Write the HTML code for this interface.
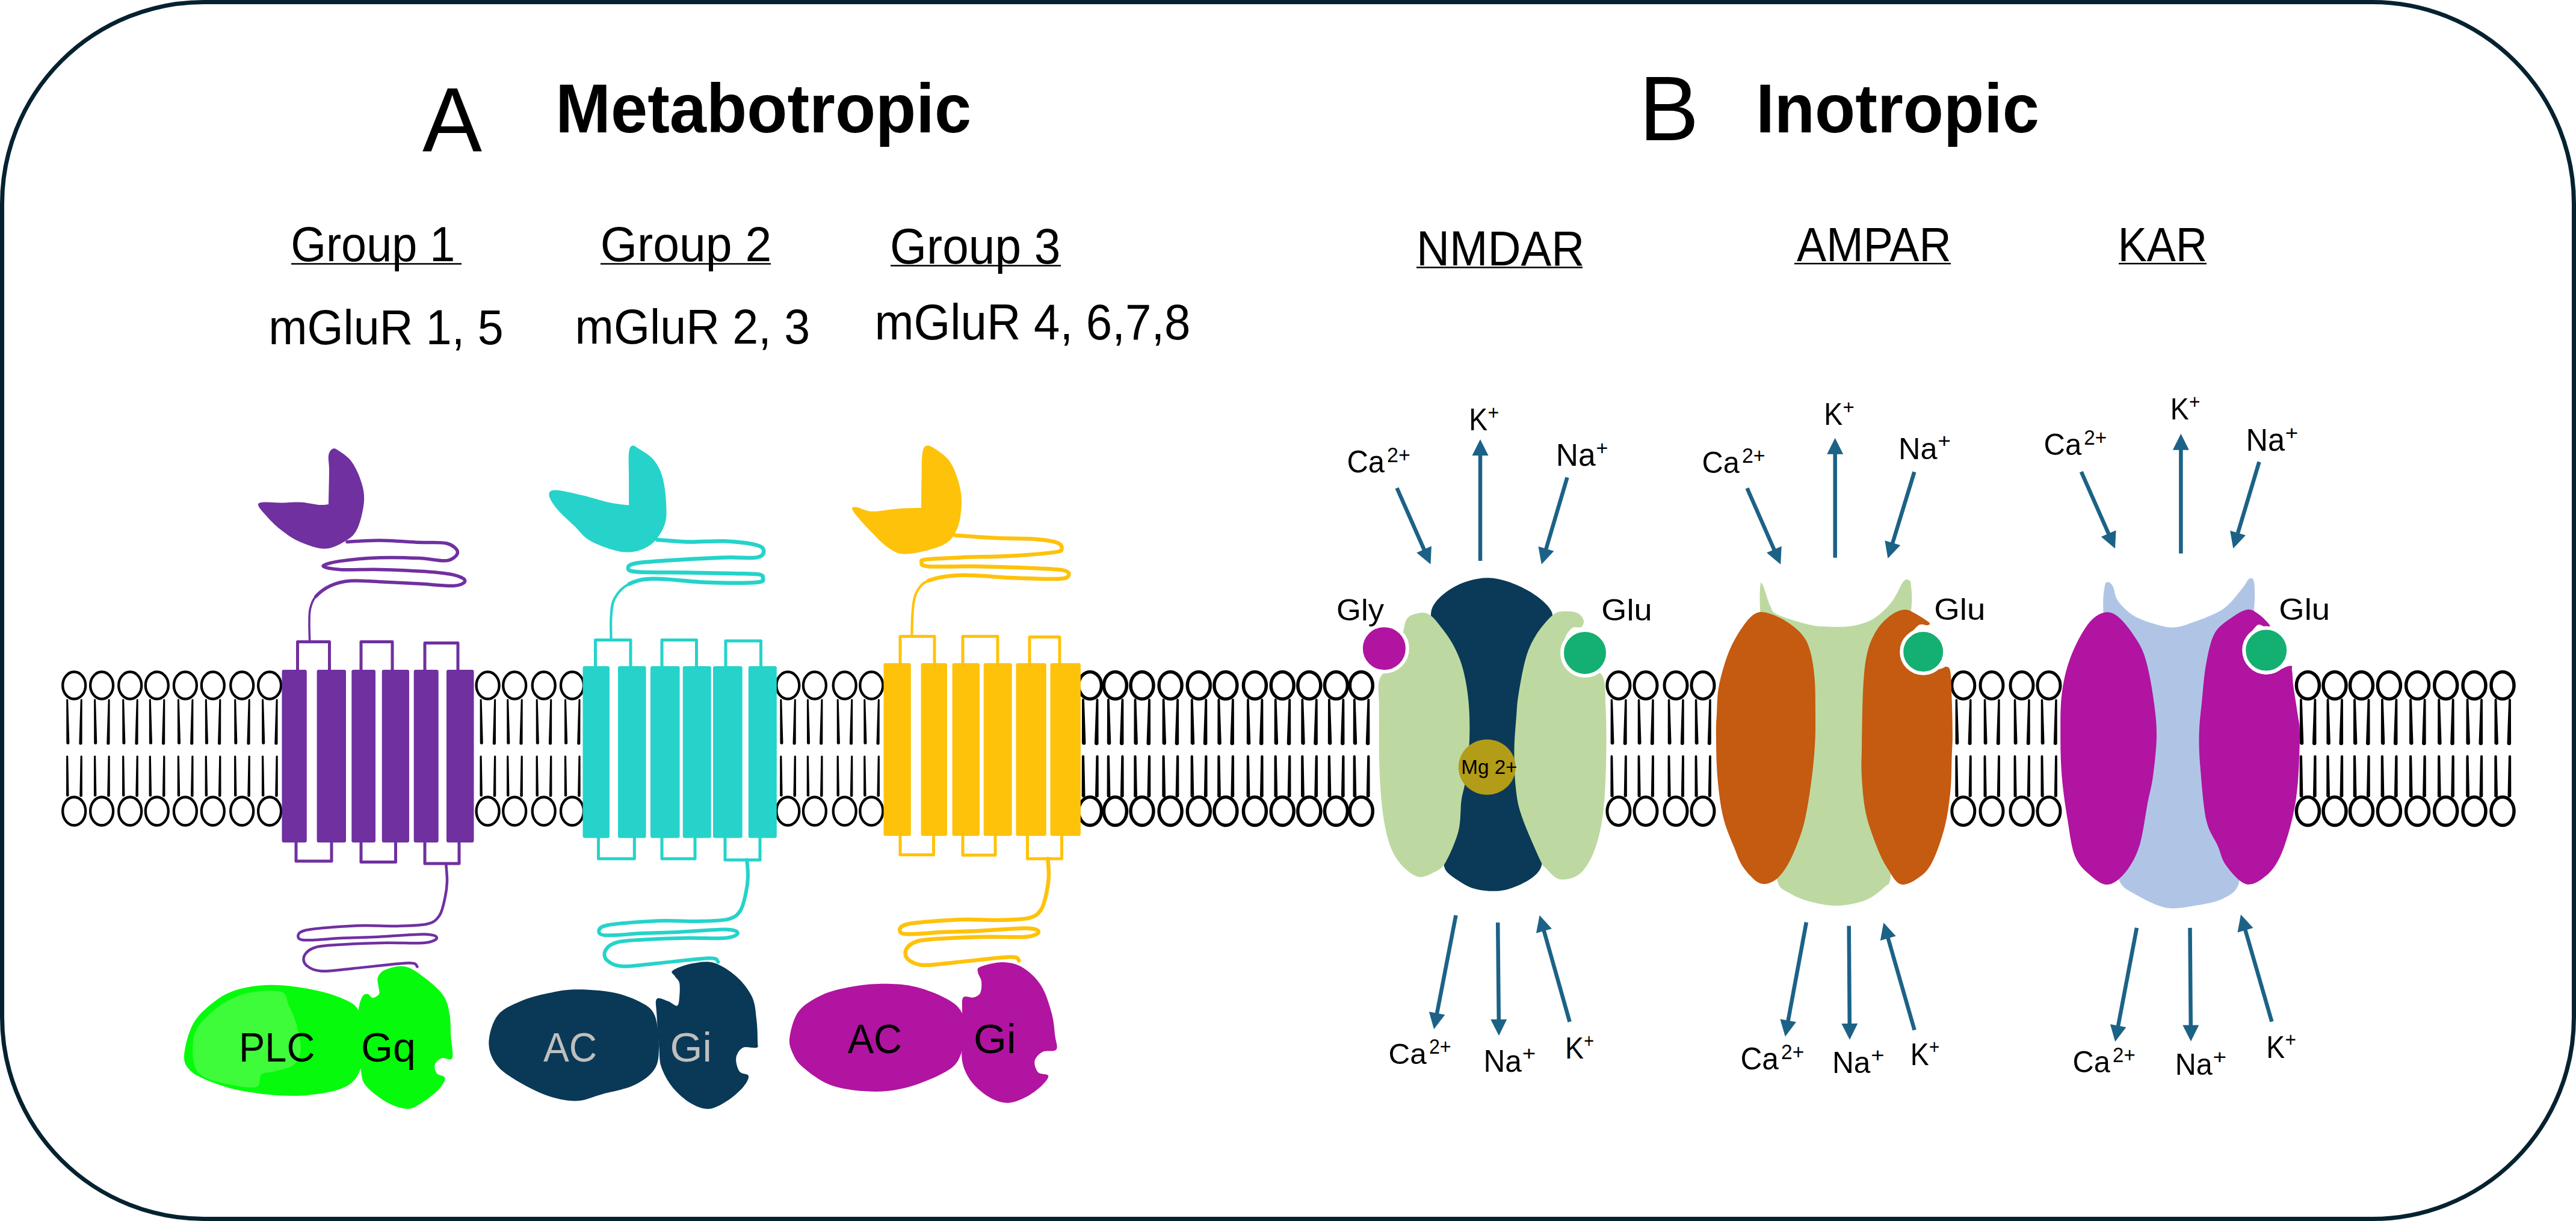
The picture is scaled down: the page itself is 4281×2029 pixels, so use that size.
<!DOCTYPE html>
<html><head><meta charset="utf-8"><title>Glutamate receptors</title>
<style>html,body{margin:0;padding:0;background:#fff;}svg{display:block;}text{font-family:"Liberation Sans",sans-serif;white-space:pre;}</style>
</head><body>
<svg width="4281" height="2029" viewBox="0 0 4281 2029">
<rect x="3.5" y="3.5" width="4274" height="2022" rx="335" ry="335" fill="#fff" stroke="#062230" stroke-width="7"/>
<rect x="484" y="437.2" width="283" height="2.5" fill="#000"/>
<rect x="998" y="437.2" width="283" height="2.5" fill="#000"/>
<rect x="1480" y="440.2" width="283" height="2.5" fill="#000"/>
<rect x="2354" y="443.2" width="276" height="2.5" fill="#000"/>
<rect x="2982" y="436.8" width="260" height="2.5" fill="#000"/>
<rect x="3521" y="436.8" width="146" height="2.5" fill="#000"/>
<ellipse cx="123.2" cy="1139" rx="19" ry="22.5" fill="#fff" stroke="#000" stroke-width="4.3"/>
<ellipse cx="123.2" cy="1348" rx="19" ry="23.5" fill="#fff" stroke="#000" stroke-width="4.3"/>
<ellipse cx="169.1" cy="1139" rx="19" ry="22.5" fill="#fff" stroke="#000" stroke-width="4.3"/>
<ellipse cx="169.1" cy="1348" rx="19" ry="23.5" fill="#fff" stroke="#000" stroke-width="4.3"/>
<ellipse cx="216.2" cy="1139" rx="19" ry="22.5" fill="#fff" stroke="#000" stroke-width="4.3"/>
<ellipse cx="216.2" cy="1348" rx="19" ry="23.5" fill="#fff" stroke="#000" stroke-width="4.3"/>
<ellipse cx="260.8" cy="1139" rx="19" ry="22.5" fill="#fff" stroke="#000" stroke-width="4.3"/>
<ellipse cx="260.8" cy="1348" rx="19" ry="23.5" fill="#fff" stroke="#000" stroke-width="4.3"/>
<ellipse cx="307.9" cy="1139" rx="19" ry="22.5" fill="#fff" stroke="#000" stroke-width="4.3"/>
<ellipse cx="307.9" cy="1348" rx="19" ry="23.5" fill="#fff" stroke="#000" stroke-width="4.3"/>
<ellipse cx="353.8" cy="1139" rx="19" ry="22.5" fill="#fff" stroke="#000" stroke-width="4.3"/>
<ellipse cx="353.8" cy="1348" rx="19" ry="23.5" fill="#fff" stroke="#000" stroke-width="4.3"/>
<ellipse cx="402.2" cy="1139" rx="19" ry="22.5" fill="#fff" stroke="#000" stroke-width="4.3"/>
<ellipse cx="402.2" cy="1348" rx="19" ry="23.5" fill="#fff" stroke="#000" stroke-width="4.3"/>
<ellipse cx="448.1" cy="1139" rx="19" ry="22.5" fill="#fff" stroke="#000" stroke-width="4.3"/>
<ellipse cx="448.1" cy="1348" rx="19" ry="23.5" fill="#fff" stroke="#000" stroke-width="4.3"/>
<path d="M110.2,1163 L110.3,1235 A2.6,2.6 0 0 0 115.4,1235 L113.2,1163 A1.5,1.5 0 0 0 110.2,1163Z M110.1,1257 L110,1322 A2.3,2.3 0 0 0 114.5,1322 L113.3,1257 A1.6,1.6 0 0 0 110.1,1257Z M133.7,1163 L131.4,1235 A2.6,2.6 0 0 0 136.6,1235 L136.7,1163 A1.5,1.5 0 0 0 133.7,1163Z M133.6,1257 L132.3,1322 A2.3,2.3 0 0 0 136.9,1322 L136.8,1257 A1.6,1.6 0 0 0 133.6,1257Z M156.1,1163 L156.2,1235 A2.6,2.6 0 0 0 161.3,1235 L159.1,1163 A1.5,1.5 0 0 0 156.1,1163Z M156,1257 L155.9,1322 A2.3,2.3 0 0 0 160.4,1322 L159.2,1257 A1.6,1.6 0 0 0 156,1257Z M179.6,1163 L177.3,1235 A2.6,2.6 0 0 0 182.5,1235 L182.6,1163 A1.5,1.5 0 0 0 179.6,1163Z M179.5,1257 L178.2,1322 A2.3,2.3 0 0 0 182.8,1322 L182.7,1257 A1.6,1.6 0 0 0 179.5,1257Z M203.2,1163 L203.3,1235 A2.6,2.6 0 0 0 208.4,1235 L206.2,1163 A1.5,1.5 0 0 0 203.2,1163Z M203.1,1257 L203,1322 A2.3,2.3 0 0 0 207.5,1322 L206.3,1257 A1.6,1.6 0 0 0 203.1,1257Z M226.7,1163 L224.4,1235 A2.6,2.6 0 0 0 229.6,1235 L229.7,1163 A1.5,1.5 0 0 0 226.7,1163Z M226.6,1257 L225.3,1322 A2.3,2.3 0 0 0 229.9,1322 L229.8,1257 A1.6,1.6 0 0 0 226.6,1257Z M247.8,1163 L247.9,1235 A2.6,2.6 0 0 0 253,1235 L250.8,1163 A1.5,1.5 0 0 0 247.8,1163Z M247.7,1257 L247.6,1322 A2.3,2.3 0 0 0 252.1,1322 L250.9,1257 A1.6,1.6 0 0 0 247.7,1257Z M271.3,1163 L269,1235 A2.6,2.6 0 0 0 274.2,1235 L274.3,1163 A1.5,1.5 0 0 0 271.3,1163Z M271.2,1257 L269.9,1322 A2.3,2.3 0 0 0 274.5,1322 L274.4,1257 A1.6,1.6 0 0 0 271.2,1257Z M294.9,1163 L295,1235 A2.6,2.6 0 0 0 300.1,1235 L297.9,1163 A1.5,1.5 0 0 0 294.9,1163Z M294.8,1257 L294.7,1322 A2.3,2.3 0 0 0 299.2,1322 L298,1257 A1.6,1.6 0 0 0 294.8,1257Z M318.4,1163 L316.1,1235 A2.6,2.6 0 0 0 321.3,1235 L321.4,1163 A1.5,1.5 0 0 0 318.4,1163Z M318.3,1257 L317,1322 A2.3,2.3 0 0 0 321.6,1322 L321.5,1257 A1.6,1.6 0 0 0 318.3,1257Z M340.8,1163 L340.9,1235 A2.6,2.6 0 0 0 346,1235 L343.8,1163 A1.5,1.5 0 0 0 340.8,1163Z M340.7,1257 L340.6,1322 A2.3,2.3 0 0 0 345.1,1322 L343.9,1257 A1.6,1.6 0 0 0 340.7,1257Z M364.3,1163 L362,1235 A2.6,2.6 0 0 0 367.2,1235 L367.3,1163 A1.5,1.5 0 0 0 364.3,1163Z M364.2,1257 L362.9,1322 A2.3,2.3 0 0 0 367.5,1322 L367.4,1257 A1.6,1.6 0 0 0 364.2,1257Z M389.2,1163 L389.3,1235 A2.6,2.6 0 0 0 394.4,1235 L392.2,1163 A1.5,1.5 0 0 0 389.2,1163Z M389.1,1257 L389,1322 A2.3,2.3 0 0 0 393.5,1322 L392.3,1257 A1.6,1.6 0 0 0 389.1,1257Z M412.7,1163 L410.4,1235 A2.6,2.6 0 0 0 415.6,1235 L415.7,1163 A1.5,1.5 0 0 0 412.7,1163Z M412.6,1257 L411.3,1322 A2.3,2.3 0 0 0 415.9,1322 L415.8,1257 A1.6,1.6 0 0 0 412.6,1257Z M435.1,1163 L435.2,1235 A2.6,2.6 0 0 0 440.3,1235 L438.1,1163 A1.5,1.5 0 0 0 435.1,1163Z M435,1257 L434.9,1322 A2.3,2.3 0 0 0 439.4,1322 L438.2,1257 A1.6,1.6 0 0 0 435,1257Z M458.6,1163 L456.3,1235 A2.6,2.6 0 0 0 461.5,1235 L461.6,1163 A1.5,1.5 0 0 0 458.6,1163Z M458.5,1257 L457.2,1322 A2.3,2.3 0 0 0 461.8,1322 L461.7,1257 A1.6,1.6 0 0 0 458.5,1257Z" fill="#000"/>
<ellipse cx="810.6" cy="1139" rx="19" ry="22.5" fill="#fff" stroke="#000" stroke-width="4.3"/>
<ellipse cx="810.6" cy="1348" rx="19" ry="23.5" fill="#fff" stroke="#000" stroke-width="4.3"/>
<ellipse cx="855.2" cy="1139" rx="19" ry="22.5" fill="#fff" stroke="#000" stroke-width="4.3"/>
<ellipse cx="855.2" cy="1348" rx="19" ry="23.5" fill="#fff" stroke="#000" stroke-width="4.3"/>
<ellipse cx="903.7" cy="1139" rx="19" ry="22.5" fill="#fff" stroke="#000" stroke-width="4.3"/>
<ellipse cx="903.7" cy="1348" rx="19" ry="23.5" fill="#fff" stroke="#000" stroke-width="4.3"/>
<ellipse cx="951" cy="1139" rx="19" ry="22.5" fill="#fff" stroke="#000" stroke-width="4.3"/>
<ellipse cx="951" cy="1348" rx="19" ry="23.5" fill="#fff" stroke="#000" stroke-width="4.3"/>
<path d="M797.6,1163 L797.7,1235 A2.6,2.6 0 0 0 802.8,1235 L800.6,1163 A1.5,1.5 0 0 0 797.6,1163Z M797.5,1257 L797.4,1322 A2.3,2.3 0 0 0 801.9,1322 L800.7,1257 A1.6,1.6 0 0 0 797.5,1257Z M821.1,1163 L818.8,1235 A2.6,2.6 0 0 0 824,1235 L824.1,1163 A1.5,1.5 0 0 0 821.1,1163Z M821,1257 L819.7,1322 A2.3,2.3 0 0 0 824.3,1322 L824.2,1257 A1.6,1.6 0 0 0 821,1257Z M842.2,1163 L842.3,1235 A2.6,2.6 0 0 0 847.4,1235 L845.2,1163 A1.5,1.5 0 0 0 842.2,1163Z M842.1,1257 L842,1322 A2.3,2.3 0 0 0 846.5,1322 L845.3,1257 A1.6,1.6 0 0 0 842.1,1257Z M865.7,1163 L863.4,1235 A2.6,2.6 0 0 0 868.6,1235 L868.7,1163 A1.5,1.5 0 0 0 865.7,1163Z M865.6,1257 L864.3,1322 A2.3,2.3 0 0 0 868.9,1322 L868.8,1257 A1.6,1.6 0 0 0 865.6,1257Z M890.7,1163 L890.8,1235 A2.6,2.6 0 0 0 895.9,1235 L893.7,1163 A1.5,1.5 0 0 0 890.7,1163Z M890.6,1257 L890.5,1322 A2.3,2.3 0 0 0 895,1322 L893.8,1257 A1.6,1.6 0 0 0 890.6,1257Z M914.2,1163 L911.9,1235 A2.6,2.6 0 0 0 917.1,1235 L917.2,1163 A1.5,1.5 0 0 0 914.2,1163Z M914.1,1257 L912.8,1322 A2.3,2.3 0 0 0 917.4,1322 L917.3,1257 A1.6,1.6 0 0 0 914.1,1257Z M938,1163 L938.1,1235 A2.6,2.6 0 0 0 943.2,1235 L941,1163 A1.5,1.5 0 0 0 938,1163Z M937.9,1257 L937.8,1322 A2.3,2.3 0 0 0 942.3,1322 L941.1,1257 A1.6,1.6 0 0 0 937.9,1257Z M961.5,1163 L959.2,1235 A2.6,2.6 0 0 0 964.4,1235 L964.5,1163 A1.5,1.5 0 0 0 961.5,1163Z M961.4,1257 L960.1,1322 A2.3,2.3 0 0 0 964.7,1322 L964.6,1257 A1.6,1.6 0 0 0 961.4,1257Z" fill="#000"/>
<ellipse cx="1309.3" cy="1139" rx="19" ry="22.5" fill="#fff" stroke="#000" stroke-width="4.3"/>
<ellipse cx="1309.3" cy="1348" rx="19" ry="23.5" fill="#fff" stroke="#000" stroke-width="4.3"/>
<ellipse cx="1353.9" cy="1139" rx="19" ry="22.5" fill="#fff" stroke="#000" stroke-width="4.3"/>
<ellipse cx="1353.9" cy="1348" rx="19" ry="23.5" fill="#fff" stroke="#000" stroke-width="4.3"/>
<ellipse cx="1403.7" cy="1139" rx="19" ry="22.5" fill="#fff" stroke="#000" stroke-width="4.3"/>
<ellipse cx="1403.7" cy="1348" rx="19" ry="23.5" fill="#fff" stroke="#000" stroke-width="4.3"/>
<ellipse cx="1448.3" cy="1139" rx="19" ry="22.5" fill="#fff" stroke="#000" stroke-width="4.3"/>
<ellipse cx="1448.3" cy="1348" rx="19" ry="23.5" fill="#fff" stroke="#000" stroke-width="4.3"/>
<path d="M1296.3,1163 L1296.4,1235 A2.6,2.6 0 0 0 1301.5,1235 L1299.3,1163 A1.5,1.5 0 0 0 1296.3,1163Z M1296.2,1257 L1296.1,1322 A2.3,2.3 0 0 0 1300.6,1322 L1299.4,1257 A1.6,1.6 0 0 0 1296.2,1257Z M1319.8,1163 L1317.5,1235 A2.6,2.6 0 0 0 1322.7,1235 L1322.8,1163 A1.5,1.5 0 0 0 1319.8,1163Z M1319.7,1257 L1318.4,1322 A2.3,2.3 0 0 0 1323,1322 L1322.9,1257 A1.6,1.6 0 0 0 1319.7,1257Z M1340.9,1163 L1341,1235 A2.6,2.6 0 0 0 1346.1,1235 L1343.9,1163 A1.5,1.5 0 0 0 1340.9,1163Z M1340.8,1257 L1340.7,1322 A2.3,2.3 0 0 0 1345.2,1322 L1344,1257 A1.6,1.6 0 0 0 1340.8,1257Z M1364.4,1163 L1362.1,1235 A2.6,2.6 0 0 0 1367.3,1235 L1367.4,1163 A1.5,1.5 0 0 0 1364.4,1163Z M1364.3,1257 L1363,1322 A2.3,2.3 0 0 0 1367.6,1322 L1367.5,1257 A1.6,1.6 0 0 0 1364.3,1257Z M1390.7,1163 L1390.8,1235 A2.6,2.6 0 0 0 1395.9,1235 L1393.7,1163 A1.5,1.5 0 0 0 1390.7,1163Z M1390.6,1257 L1390.5,1322 A2.3,2.3 0 0 0 1395,1322 L1393.8,1257 A1.6,1.6 0 0 0 1390.6,1257Z M1414.2,1163 L1411.9,1235 A2.6,2.6 0 0 0 1417.1,1235 L1417.2,1163 A1.5,1.5 0 0 0 1414.2,1163Z M1414.1,1257 L1412.8,1322 A2.3,2.3 0 0 0 1417.4,1322 L1417.3,1257 A1.6,1.6 0 0 0 1414.1,1257Z M1435.3,1163 L1435.4,1235 A2.6,2.6 0 0 0 1440.5,1235 L1438.3,1163 A1.5,1.5 0 0 0 1435.3,1163Z M1435.2,1257 L1435.1,1322 A2.3,2.3 0 0 0 1439.6,1322 L1438.4,1257 A1.6,1.6 0 0 0 1435.2,1257Z M1458.8,1163 L1456.5,1235 A2.6,2.6 0 0 0 1461.7,1235 L1461.8,1163 A1.5,1.5 0 0 0 1458.8,1163Z M1458.7,1257 L1457.4,1322 A2.3,2.3 0 0 0 1462,1322 L1461.9,1257 A1.6,1.6 0 0 0 1458.7,1257Z" fill="#000"/>
<ellipse cx="1811.5" cy="1139" rx="19" ry="22.5" fill="#fff" stroke="#000" stroke-width="5.5"/>
<ellipse cx="1811.5" cy="1348" rx="19" ry="23.5" fill="#fff" stroke="#000" stroke-width="5.5"/>
<ellipse cx="1853.4" cy="1139" rx="19" ry="22.5" fill="#fff" stroke="#000" stroke-width="5.5"/>
<ellipse cx="1853.4" cy="1348" rx="19" ry="23.5" fill="#fff" stroke="#000" stroke-width="5.5"/>
<ellipse cx="1898" cy="1139" rx="19" ry="22.5" fill="#fff" stroke="#000" stroke-width="5.5"/>
<ellipse cx="1898" cy="1348" rx="19" ry="23.5" fill="#fff" stroke="#000" stroke-width="5.5"/>
<ellipse cx="1945.1" cy="1139" rx="19" ry="22.5" fill="#fff" stroke="#000" stroke-width="5.5"/>
<ellipse cx="1945.1" cy="1348" rx="19" ry="23.5" fill="#fff" stroke="#000" stroke-width="5.5"/>
<ellipse cx="1992.3" cy="1139" rx="19" ry="22.5" fill="#fff" stroke="#000" stroke-width="5.5"/>
<ellipse cx="1992.3" cy="1348" rx="19" ry="23.5" fill="#fff" stroke="#000" stroke-width="5.5"/>
<ellipse cx="2036.9" cy="1139" rx="19" ry="22.5" fill="#fff" stroke="#000" stroke-width="5.5"/>
<ellipse cx="2036.9" cy="1348" rx="19" ry="23.5" fill="#fff" stroke="#000" stroke-width="5.5"/>
<ellipse cx="2085.4" cy="1139" rx="19" ry="22.5" fill="#fff" stroke="#000" stroke-width="5.5"/>
<ellipse cx="2085.4" cy="1348" rx="19" ry="23.5" fill="#fff" stroke="#000" stroke-width="5.5"/>
<ellipse cx="2131.2" cy="1139" rx="19" ry="22.5" fill="#fff" stroke="#000" stroke-width="5.5"/>
<ellipse cx="2131.2" cy="1348" rx="19" ry="23.5" fill="#fff" stroke="#000" stroke-width="5.5"/>
<ellipse cx="2175.8" cy="1139" rx="19" ry="22.5" fill="#fff" stroke="#000" stroke-width="5.5"/>
<ellipse cx="2175.8" cy="1348" rx="19" ry="23.5" fill="#fff" stroke="#000" stroke-width="5.5"/>
<ellipse cx="2220.4" cy="1139" rx="19" ry="22.5" fill="#fff" stroke="#000" stroke-width="5.5"/>
<ellipse cx="2220.4" cy="1348" rx="19" ry="23.5" fill="#fff" stroke="#000" stroke-width="5.5"/>
<ellipse cx="2262.3" cy="1139" rx="19" ry="22.5" fill="#fff" stroke="#000" stroke-width="5.5"/>
<ellipse cx="2262.3" cy="1348" rx="19" ry="23.5" fill="#fff" stroke="#000" stroke-width="5.5"/>
<path d="M1798.1,1163 L1797.9,1235.1 A3.3,3.3 0 0 0 1804.4,1234.9 L1801.9,1163 A1.9,1.9 0 0 0 1798.1,1163Z M1797.9,1257 L1797.7,1322 A2.9,2.9 0 0 0 1803.5,1322 L1802.1,1257 A2.1,2.1 0 0 0 1797.9,1257Z M1821.6,1163 L1819,1234.9 A3.3,3.3 0 0 0 1825.6,1235.1 L1825.4,1163 A1.9,1.9 0 0 0 1821.6,1163Z M1821.4,1257 L1820,1322 A2.9,2.9 0 0 0 1825.8,1322 L1825.6,1257 A2.1,2.1 0 0 0 1821.4,1257Z M1840,1163 L1839.8,1235.1 A3.3,3.3 0 0 0 1846.3,1234.9 L1843.8,1163 A1.9,1.9 0 0 0 1840,1163Z M1839.8,1257 L1839.6,1322 A2.9,2.9 0 0 0 1845.4,1322 L1844,1257 A2.1,2.1 0 0 0 1839.8,1257Z M1863.5,1163 L1860.9,1234.9 A3.3,3.3 0 0 0 1867.5,1235.1 L1867.3,1163 A1.9,1.9 0 0 0 1863.5,1163Z M1863.3,1257 L1861.9,1322 A2.9,2.9 0 0 0 1867.7,1322 L1867.5,1257 A2.1,2.1 0 0 0 1863.3,1257Z M1884.6,1163 L1884.4,1235.1 A3.3,3.3 0 0 0 1890.9,1234.9 L1888.4,1163 A1.9,1.9 0 0 0 1884.6,1163Z M1884.4,1257 L1884.2,1322 A2.9,2.9 0 0 0 1890,1322 L1888.6,1257 A2.1,2.1 0 0 0 1884.4,1257Z M1908.1,1163 L1905.5,1234.9 A3.3,3.3 0 0 0 1912.1,1235.1 L1911.9,1163 A1.9,1.9 0 0 0 1908.1,1163Z M1907.9,1257 L1906.5,1322 A2.9,2.9 0 0 0 1912.3,1322 L1912.1,1257 A2.1,2.1 0 0 0 1907.9,1257Z M1931.7,1163 L1931.5,1235.1 A3.3,3.3 0 0 0 1938,1234.9 L1935.5,1163 A1.9,1.9 0 0 0 1931.7,1163Z M1931.5,1257 L1931.3,1322 A2.9,2.9 0 0 0 1937.1,1322 L1935.7,1257 A2.1,2.1 0 0 0 1931.5,1257Z M1955.2,1163 L1952.6,1234.9 A3.3,3.3 0 0 0 1959.2,1235.1 L1959,1163 A1.9,1.9 0 0 0 1955.2,1163Z M1955,1257 L1953.6,1322 A2.9,2.9 0 0 0 1959.4,1322 L1959.2,1257 A2.1,2.1 0 0 0 1955,1257Z M1978.9,1163 L1978.7,1235.1 A3.3,3.3 0 0 0 1985.2,1234.9 L1982.7,1163 A1.9,1.9 0 0 0 1978.9,1163Z M1978.7,1257 L1978.5,1322 A2.9,2.9 0 0 0 1984.3,1322 L1982.9,1257 A2.1,2.1 0 0 0 1978.7,1257Z M2002.4,1163 L1999.8,1234.9 A3.3,3.3 0 0 0 2006.4,1235.1 L2006.2,1163 A1.9,1.9 0 0 0 2002.4,1163Z M2002.2,1257 L2000.8,1322 A2.9,2.9 0 0 0 2006.6,1322 L2006.4,1257 A2.1,2.1 0 0 0 2002.2,1257Z M2023.5,1163 L2023.3,1235.1 A3.3,3.3 0 0 0 2029.8,1234.9 L2027.3,1163 A1.9,1.9 0 0 0 2023.5,1163Z M2023.3,1257 L2023.1,1322 A2.9,2.9 0 0 0 2028.9,1322 L2027.5,1257 A2.1,2.1 0 0 0 2023.3,1257Z M2047,1163 L2044.4,1234.9 A3.3,3.3 0 0 0 2051,1235.1 L2050.8,1163 A1.9,1.9 0 0 0 2047,1163Z M2046.8,1257 L2045.4,1322 A2.9,2.9 0 0 0 2051.2,1322 L2051,1257 A2.1,2.1 0 0 0 2046.8,1257Z M2072,1163 L2071.8,1235.1 A3.3,3.3 0 0 0 2078.3,1234.9 L2075.8,1163 A1.9,1.9 0 0 0 2072,1163Z M2071.8,1257 L2071.6,1322 A2.9,2.9 0 0 0 2077.4,1322 L2076,1257 A2.1,2.1 0 0 0 2071.8,1257Z M2095.5,1163 L2092.9,1234.9 A3.3,3.3 0 0 0 2099.5,1235.1 L2099.3,1163 A1.9,1.9 0 0 0 2095.5,1163Z M2095.3,1257 L2093.9,1322 A2.9,2.9 0 0 0 2099.7,1322 L2099.5,1257 A2.1,2.1 0 0 0 2095.3,1257Z M2117.8,1163 L2117.6,1235.1 A3.3,3.3 0 0 0 2124.1,1234.9 L2121.6,1163 A1.9,1.9 0 0 0 2117.8,1163Z M2117.6,1257 L2117.4,1322 A2.9,2.9 0 0 0 2123.2,1322 L2121.8,1257 A2.1,2.1 0 0 0 2117.6,1257Z M2141.3,1163 L2138.7,1234.9 A3.3,3.3 0 0 0 2145.3,1235.1 L2145.1,1163 A1.9,1.9 0 0 0 2141.3,1163Z M2141.1,1257 L2139.7,1322 A2.9,2.9 0 0 0 2145.5,1322 L2145.3,1257 A2.1,2.1 0 0 0 2141.1,1257Z M2162.4,1163 L2162.2,1235.1 A3.3,3.3 0 0 0 2168.7,1234.9 L2166.2,1163 A1.9,1.9 0 0 0 2162.4,1163Z M2162.2,1257 L2162,1322 A2.9,2.9 0 0 0 2167.8,1322 L2166.4,1257 A2.1,2.1 0 0 0 2162.2,1257Z M2185.9,1163 L2183.3,1234.9 A3.3,3.3 0 0 0 2189.9,1235.1 L2189.7,1163 A1.9,1.9 0 0 0 2185.9,1163Z M2185.7,1257 L2184.3,1322 A2.9,2.9 0 0 0 2190.1,1322 L2189.9,1257 A2.1,2.1 0 0 0 2185.7,1257Z M2207,1163 L2206.8,1235.1 A3.3,3.3 0 0 0 2213.3,1234.9 L2210.8,1163 A1.9,1.9 0 0 0 2207,1163Z M2206.8,1257 L2206.6,1322 A2.9,2.9 0 0 0 2212.4,1322 L2211,1257 A2.1,2.1 0 0 0 2206.8,1257Z M2230.5,1163 L2227.9,1234.9 A3.3,3.3 0 0 0 2234.5,1235.1 L2234.3,1163 A1.9,1.9 0 0 0 2230.5,1163Z M2230.3,1257 L2228.9,1322 A2.9,2.9 0 0 0 2234.7,1322 L2234.5,1257 A2.1,2.1 0 0 0 2230.3,1257Z M2248.9,1163 L2248.7,1235.1 A3.3,3.3 0 0 0 2255.2,1234.9 L2252.7,1163 A1.9,1.9 0 0 0 2248.9,1163Z M2248.7,1257 L2248.5,1322 A2.9,2.9 0 0 0 2254.3,1322 L2252.9,1257 A2.1,2.1 0 0 0 2248.7,1257Z M2272.4,1163 L2269.8,1234.9 A3.3,3.3 0 0 0 2276.4,1235.1 L2276.2,1163 A1.9,1.9 0 0 0 2272.4,1163Z M2272.2,1257 L2270.8,1322 A2.9,2.9 0 0 0 2276.6,1322 L2276.4,1257 A2.1,2.1 0 0 0 2272.2,1257Z" fill="#000"/>
<ellipse cx="2689.9" cy="1139" rx="19" ry="22.5" fill="#fff" stroke="#000" stroke-width="5"/>
<ellipse cx="2689.9" cy="1348" rx="19" ry="23.5" fill="#fff" stroke="#000" stroke-width="5"/>
<ellipse cx="2735" cy="1139" rx="19" ry="22.5" fill="#fff" stroke="#000" stroke-width="5"/>
<ellipse cx="2735" cy="1348" rx="19" ry="23.5" fill="#fff" stroke="#000" stroke-width="5"/>
<ellipse cx="2785" cy="1139" rx="19" ry="22.5" fill="#fff" stroke="#000" stroke-width="5"/>
<ellipse cx="2785" cy="1348" rx="19" ry="23.5" fill="#fff" stroke="#000" stroke-width="5"/>
<ellipse cx="2830" cy="1139" rx="19" ry="22.5" fill="#fff" stroke="#000" stroke-width="5"/>
<ellipse cx="2830" cy="1348" rx="19" ry="23.5" fill="#fff" stroke="#000" stroke-width="5"/>
<path d="M2676.7,1163 L2676.6,1235 A3,3 0 0 0 2682.5,1235 L2680.1,1163 A1.8,1.8 0 0 0 2676.7,1163Z M2676.5,1257 L2676.4,1322 A2.6,2.6 0 0 0 2681.6,1322 L2680.3,1257 A1.9,1.9 0 0 0 2676.5,1257Z M2700.2,1163 L2697.7,1235 A3,3 0 0 0 2703.7,1235 L2703.6,1163 A1.8,1.8 0 0 0 2700.2,1163Z M2700,1257 L2698.7,1322 A2.6,2.6 0 0 0 2703.9,1322 L2703.8,1257 A1.9,1.9 0 0 0 2700,1257Z M2721.8,1163 L2721.7,1235 A3,3 0 0 0 2727.6,1235 L2725.2,1163 A1.8,1.8 0 0 0 2721.8,1163Z M2721.6,1257 L2721.5,1322 A2.6,2.6 0 0 0 2726.7,1322 L2725.4,1257 A1.9,1.9 0 0 0 2721.6,1257Z M2745.3,1163 L2742.8,1235 A3,3 0 0 0 2748.8,1235 L2748.7,1163 A1.8,1.8 0 0 0 2745.3,1163Z M2745.1,1257 L2743.8,1322 A2.6,2.6 0 0 0 2749,1322 L2748.9,1257 A1.9,1.9 0 0 0 2745.1,1257Z M2771.8,1163 L2771.7,1235 A3,3 0 0 0 2777.6,1235 L2775.2,1163 A1.8,1.8 0 0 0 2771.8,1163Z M2771.6,1257 L2771.5,1322 A2.6,2.6 0 0 0 2776.7,1322 L2775.4,1257 A1.9,1.9 0 0 0 2771.6,1257Z M2795.3,1163 L2792.8,1235 A3,3 0 0 0 2798.8,1235 L2798.7,1163 A1.8,1.8 0 0 0 2795.3,1163Z M2795.1,1257 L2793.8,1322 A2.6,2.6 0 0 0 2799,1322 L2798.9,1257 A1.9,1.9 0 0 0 2795.1,1257Z M2816.8,1163 L2816.7,1235 A3,3 0 0 0 2822.6,1235 L2820.2,1163 A1.8,1.8 0 0 0 2816.8,1163Z M2816.6,1257 L2816.5,1322 A2.6,2.6 0 0 0 2821.7,1322 L2820.4,1257 A1.9,1.9 0 0 0 2816.6,1257Z M2840.3,1163 L2837.8,1235 A3,3 0 0 0 2843.8,1235 L2843.7,1163 A1.8,1.8 0 0 0 2840.3,1163Z M2840.1,1257 L2838.8,1322 A2.6,2.6 0 0 0 2844,1322 L2843.9,1257 A1.9,1.9 0 0 0 2840.1,1257Z" fill="#000"/>
<ellipse cx="3262.8" cy="1139" rx="19" ry="22.5" fill="#fff" stroke="#000" stroke-width="5"/>
<ellipse cx="3262.8" cy="1348" rx="19" ry="23.5" fill="#fff" stroke="#000" stroke-width="5"/>
<ellipse cx="3310" cy="1139" rx="19" ry="22.5" fill="#fff" stroke="#000" stroke-width="5"/>
<ellipse cx="3310" cy="1348" rx="19" ry="23.5" fill="#fff" stroke="#000" stroke-width="5"/>
<ellipse cx="3360" cy="1139" rx="19" ry="22.5" fill="#fff" stroke="#000" stroke-width="5"/>
<ellipse cx="3360" cy="1348" rx="19" ry="23.5" fill="#fff" stroke="#000" stroke-width="5"/>
<ellipse cx="3405" cy="1139" rx="19" ry="22.5" fill="#fff" stroke="#000" stroke-width="5"/>
<ellipse cx="3405" cy="1348" rx="19" ry="23.5" fill="#fff" stroke="#000" stroke-width="5"/>
<path d="M3249.6,1163 L3249.5,1235 A3,3 0 0 0 3255.4,1235 L3253,1163 A1.8,1.8 0 0 0 3249.6,1163Z M3249.4,1257 L3249.3,1322 A2.6,2.6 0 0 0 3254.5,1322 L3253.2,1257 A1.9,1.9 0 0 0 3249.4,1257Z M3273.1,1163 L3270.6,1235 A3,3 0 0 0 3276.6,1235 L3276.5,1163 A1.8,1.8 0 0 0 3273.1,1163Z M3272.9,1257 L3271.6,1322 A2.6,2.6 0 0 0 3276.8,1322 L3276.7,1257 A1.9,1.9 0 0 0 3272.9,1257Z M3296.8,1163 L3296.7,1235 A3,3 0 0 0 3302.6,1235 L3300.2,1163 A1.8,1.8 0 0 0 3296.8,1163Z M3296.6,1257 L3296.5,1322 A2.6,2.6 0 0 0 3301.7,1322 L3300.4,1257 A1.9,1.9 0 0 0 3296.6,1257Z M3320.3,1163 L3317.8,1235 A3,3 0 0 0 3323.8,1235 L3323.7,1163 A1.8,1.8 0 0 0 3320.3,1163Z M3320.1,1257 L3318.8,1322 A2.6,2.6 0 0 0 3324,1322 L3323.9,1257 A1.9,1.9 0 0 0 3320.1,1257Z M3346.8,1163 L3346.7,1235 A3,3 0 0 0 3352.6,1235 L3350.2,1163 A1.8,1.8 0 0 0 3346.8,1163Z M3346.6,1257 L3346.5,1322 A2.6,2.6 0 0 0 3351.7,1322 L3350.4,1257 A1.9,1.9 0 0 0 3346.6,1257Z M3370.3,1163 L3367.8,1235 A3,3 0 0 0 3373.8,1235 L3373.7,1163 A1.8,1.8 0 0 0 3370.3,1163Z M3370.1,1257 L3368.8,1322 A2.6,2.6 0 0 0 3374,1322 L3373.9,1257 A1.9,1.9 0 0 0 3370.1,1257Z M3391.8,1163 L3391.7,1235 A3,3 0 0 0 3397.6,1235 L3395.2,1163 A1.8,1.8 0 0 0 3391.8,1163Z M3391.6,1257 L3391.5,1322 A2.6,2.6 0 0 0 3396.7,1322 L3395.4,1257 A1.9,1.9 0 0 0 3391.6,1257Z M3415.3,1163 L3412.8,1235 A3,3 0 0 0 3418.8,1235 L3418.7,1163 A1.8,1.8 0 0 0 3415.3,1163Z M3415.1,1257 L3413.8,1322 A2.6,2.6 0 0 0 3419,1322 L3418.9,1257 A1.9,1.9 0 0 0 3415.1,1257Z" fill="#000"/>
<ellipse cx="3835.4" cy="1139" rx="19" ry="22.5" fill="#fff" stroke="#000" stroke-width="5.5"/>
<ellipse cx="3835.4" cy="1348" rx="19" ry="23.5" fill="#fff" stroke="#000" stroke-width="5.5"/>
<ellipse cx="3880" cy="1139" rx="19" ry="22.5" fill="#fff" stroke="#000" stroke-width="5.5"/>
<ellipse cx="3880" cy="1348" rx="19" ry="23.5" fill="#fff" stroke="#000" stroke-width="5.5"/>
<ellipse cx="3924.5" cy="1139" rx="19" ry="22.5" fill="#fff" stroke="#000" stroke-width="5.5"/>
<ellipse cx="3924.5" cy="1348" rx="19" ry="23.5" fill="#fff" stroke="#000" stroke-width="5.5"/>
<ellipse cx="3970.4" cy="1139" rx="19" ry="22.5" fill="#fff" stroke="#000" stroke-width="5.5"/>
<ellipse cx="3970.4" cy="1348" rx="19" ry="23.5" fill="#fff" stroke="#000" stroke-width="5.5"/>
<ellipse cx="4017.6" cy="1139" rx="19" ry="22.5" fill="#fff" stroke="#000" stroke-width="5.5"/>
<ellipse cx="4017.6" cy="1348" rx="19" ry="23.5" fill="#fff" stroke="#000" stroke-width="5.5"/>
<ellipse cx="4064.7" cy="1139" rx="19" ry="22.5" fill="#fff" stroke="#000" stroke-width="5.5"/>
<ellipse cx="4064.7" cy="1348" rx="19" ry="23.5" fill="#fff" stroke="#000" stroke-width="5.5"/>
<ellipse cx="4112" cy="1139" rx="19" ry="22.5" fill="#fff" stroke="#000" stroke-width="5.5"/>
<ellipse cx="4112" cy="1348" rx="19" ry="23.5" fill="#fff" stroke="#000" stroke-width="5.5"/>
<ellipse cx="4159" cy="1139" rx="19" ry="22.5" fill="#fff" stroke="#000" stroke-width="5.5"/>
<ellipse cx="4159" cy="1348" rx="19" ry="23.5" fill="#fff" stroke="#000" stroke-width="5.5"/>
<path d="M3822,1163 L3821.8,1235.1 A3.3,3.3 0 0 0 3828.3,1234.9 L3825.8,1163 A1.9,1.9 0 0 0 3822,1163Z M3821.8,1257 L3821.6,1322 A2.9,2.9 0 0 0 3827.4,1322 L3826,1257 A2.1,2.1 0 0 0 3821.8,1257Z M3845.5,1163 L3842.9,1234.9 A3.3,3.3 0 0 0 3849.5,1235.1 L3849.3,1163 A1.9,1.9 0 0 0 3845.5,1163Z M3845.3,1257 L3843.9,1322 A2.9,2.9 0 0 0 3849.7,1322 L3849.5,1257 A2.1,2.1 0 0 0 3845.3,1257Z M3866.6,1163 L3866.4,1235.1 A3.3,3.3 0 0 0 3872.9,1234.9 L3870.4,1163 A1.9,1.9 0 0 0 3866.6,1163Z M3866.4,1257 L3866.2,1322 A2.9,2.9 0 0 0 3872,1322 L3870.6,1257 A2.1,2.1 0 0 0 3866.4,1257Z M3890.1,1163 L3887.5,1234.9 A3.3,3.3 0 0 0 3894.1,1235.1 L3893.9,1163 A1.9,1.9 0 0 0 3890.1,1163Z M3889.9,1257 L3888.5,1322 A2.9,2.9 0 0 0 3894.3,1322 L3894.1,1257 A2.1,2.1 0 0 0 3889.9,1257Z M3911.1,1163 L3910.9,1235.1 A3.3,3.3 0 0 0 3917.4,1234.9 L3914.9,1163 A1.9,1.9 0 0 0 3911.1,1163Z M3910.9,1257 L3910.7,1322 A2.9,2.9 0 0 0 3916.5,1322 L3915.1,1257 A2.1,2.1 0 0 0 3910.9,1257Z M3934.6,1163 L3932,1234.9 A3.3,3.3 0 0 0 3938.6,1235.1 L3938.4,1163 A1.9,1.9 0 0 0 3934.6,1163Z M3934.4,1257 L3933,1322 A2.9,2.9 0 0 0 3938.8,1322 L3938.6,1257 A2.1,2.1 0 0 0 3934.4,1257Z M3957,1163 L3956.8,1235.1 A3.3,3.3 0 0 0 3963.3,1234.9 L3960.8,1163 A1.9,1.9 0 0 0 3957,1163Z M3956.8,1257 L3956.6,1322 A2.9,2.9 0 0 0 3962.4,1322 L3961,1257 A2.1,2.1 0 0 0 3956.8,1257Z M3980.5,1163 L3977.9,1234.9 A3.3,3.3 0 0 0 3984.5,1235.1 L3984.3,1163 A1.9,1.9 0 0 0 3980.5,1163Z M3980.3,1257 L3978.9,1322 A2.9,2.9 0 0 0 3984.7,1322 L3984.5,1257 A2.1,2.1 0 0 0 3980.3,1257Z M4004.2,1163 L4004,1235.1 A3.3,3.3 0 0 0 4010.5,1234.9 L4008,1163 A1.9,1.9 0 0 0 4004.2,1163Z M4004,1257 L4003.8,1322 A2.9,2.9 0 0 0 4009.6,1322 L4008.2,1257 A2.1,2.1 0 0 0 4004,1257Z M4027.7,1163 L4025.1,1234.9 A3.3,3.3 0 0 0 4031.7,1235.1 L4031.5,1163 A1.9,1.9 0 0 0 4027.7,1163Z M4027.5,1257 L4026.1,1322 A2.9,2.9 0 0 0 4031.9,1322 L4031.7,1257 A2.1,2.1 0 0 0 4027.5,1257Z M4051.3,1163 L4051.1,1235.1 A3.3,3.3 0 0 0 4057.6,1234.9 L4055.1,1163 A1.9,1.9 0 0 0 4051.3,1163Z M4051.1,1257 L4050.9,1322 A2.9,2.9 0 0 0 4056.7,1322 L4055.3,1257 A2.1,2.1 0 0 0 4051.1,1257Z M4074.8,1163 L4072.2,1234.9 A3.3,3.3 0 0 0 4078.8,1235.1 L4078.6,1163 A1.9,1.9 0 0 0 4074.8,1163Z M4074.6,1257 L4073.2,1322 A2.9,2.9 0 0 0 4079,1322 L4078.8,1257 A2.1,2.1 0 0 0 4074.6,1257Z M4098.6,1163 L4098.4,1235.1 A3.3,3.3 0 0 0 4104.9,1234.9 L4102.4,1163 A1.9,1.9 0 0 0 4098.6,1163Z M4098.4,1257 L4098.2,1322 A2.9,2.9 0 0 0 4104,1322 L4102.6,1257 A2.1,2.1 0 0 0 4098.4,1257Z M4122.1,1163 L4119.5,1234.9 A3.3,3.3 0 0 0 4126.1,1235.1 L4125.9,1163 A1.9,1.9 0 0 0 4122.1,1163Z M4121.9,1257 L4120.5,1322 A2.9,2.9 0 0 0 4126.3,1322 L4126.1,1257 A2.1,2.1 0 0 0 4121.9,1257Z M4145.6,1163 L4145.4,1235.1 A3.3,3.3 0 0 0 4151.9,1234.9 L4149.4,1163 A1.9,1.9 0 0 0 4145.6,1163Z M4145.4,1257 L4145.2,1322 A2.9,2.9 0 0 0 4151,1322 L4149.6,1257 A2.1,2.1 0 0 0 4145.4,1257Z M4169.1,1163 L4166.5,1234.9 A3.3,3.3 0 0 0 4173.1,1235.1 L4172.9,1163 A1.9,1.9 0 0 0 4169.1,1163Z M4168.9,1257 L4167.5,1322 A2.9,2.9 0 0 0 4173.3,1322 L4173.1,1257 A2.1,2.1 0 0 0 4168.9,1257Z" fill="#000"/>
<path d="M553.5,745.6 C550.5,746.7 547.2,750.6 546.1,756.2 C545,761.8 546.9,770 547,779 C547.1,788 546.7,800.2 546.5,810 C546.3,819.8 546,838 546,838 C546,838 538.8,839.5 531.4,839 C524,838.5 512.1,835.4 501.9,834.8 C491.7,834.2 482,835.2 470,835.5 C458,835.8 434,832.5 429.8,836.5 C425.6,840.5 438.1,851.8 444.6,859.4 C451.2,867 460.1,875.5 469.1,882.3 C478.1,889.1 486.6,895.5 498.6,900.4 C510.6,905.3 528.1,912.4 541.2,911.8 C554.3,911.2 568.5,902.5 577.2,897 C585.9,891.5 589.2,887.7 593.6,879 C598,870.3 601.7,855.1 603.5,844.7 C605.3,834.3 605.7,826.4 604.3,816.8 C602.9,807.2 599,796 595.3,787.3 C591.6,778.6 587.4,770.7 582.2,764.4 C577,758.1 568.9,752.8 564.1,749.7 C559.3,746.6 556.5,744.5 553.5,745.6Z" fill="#7030a0"/>
<path d="M577,900.5 C586,900.1 611.1,897.9 631,898 C650.9,898.1 678,900.5 696.6,901.3 C715.2,902.1 731.9,900.3 742.5,903 C753.1,905.7 760.5,912.9 760.5,917.7 C760.5,922.5 753.1,930 742.5,931.6 C731.9,933.2 715.2,928.3 696.6,927.5 C678,926.7 652.9,925.9 631,926.7 C609.1,927.5 581.2,930.1 565.5,932.4 C549.8,934.7 536.9,938.3 536.9,940.6 C536.9,942.9 549.8,945.4 565.5,946.4 C581.2,947.4 607.8,945.9 631,946.4 C654.2,946.9 684.3,948.1 704.8,949.6 C725.3,951.1 742.7,952.8 754,955.4 C765.3,958 772.8,962.2 772.8,965.2 C772.8,968.2 766.7,972.6 754,973.4 C741.3,974.2 717.1,971.2 696.6,970.1 C676.1,969 650.1,967.6 631,966.8 C611.9,966 595.7,964.1 582,965.2 C568.3,966.3 558.6,969 549,973.4 C539.4,977.8 530.2,985.1 524.6,991.4 C519,997.7 517.4,1003.6 515.6,1011 C513.8,1018.4 514.1,1026.5 514,1035.7 C513.9,1044.9 514.6,1061 514.7,1066" fill="none" stroke="#7030a0" stroke-width="3.6" stroke-linejoin="round" stroke-linecap="round"/>
<path d="M577,900.5 C586,900.1 611.1,897.9 631,898 C650.9,898.1 678,900.5 696.6,901.3 C715.2,902.1 731.9,900.3 742.5,903 C753.1,905.7 760.5,912.9 760.5,917.7 C760.5,922.5 753.1,930 742.5,931.6 C731.9,933.2 715.2,928.3 696.6,927.5 C678,926.7 652.9,925.9 631,926.7 C609.1,927.5 581.2,930.1 565.5,932.4 C549.8,934.7 536.9,938.3 536.9,940.6 C536.9,942.9 549.8,945.4 565.5,946.4 C581.2,947.4 607.8,945.9 631,946.4 C654.2,946.9 684.3,948.1 704.8,949.6 C725.3,951.1 742.7,952.8 754,955.4 C765.3,958 772.8,962.2 772.8,965.2 C772.8,968.2 766.7,972.6 754,973.4 C741.3,974.2 717.1,971.2 696.6,970.1 C676.1,969 650.1,967.6 631,966.8 C611.9,966 595.7,964.1 582,965.2 C568.3,966.3 558.6,969 549,973.4 C539.4,977.8 530.2,985.1 524.6,991.4 C519,997.7 517.4,1003.6 515.6,1011 C513.8,1018.4 514.1,1026.5 514,1035.7 C513.9,1044.9 514.6,1061 514.7,1066" pathLength="1000" stroke-dasharray="922.7 2000" fill="none" stroke="#7030a0" stroke-width="5.5" stroke-linejoin="round" stroke-linecap="round"/>
<rect x="468.5" y="1113" width="41.3" height="287" rx="3" fill="#7030a0"/>
<rect x="526.6" y="1113" width="48.4" height="287" rx="3" fill="#7030a0"/>
<rect x="584.3" y="1113" width="39.7" height="287" rx="3" fill="#7030a0"/>
<rect x="634.7" y="1113" width="45.3" height="287" rx="3" fill="#7030a0"/>
<rect x="687.7" y="1113" width="41" height="287" rx="3" fill="#7030a0"/>
<rect x="742" y="1113" width="45.5" height="287" rx="3" fill="#7030a0"/>
<path d="M494.5,1115 L494.5,1066.5 L547.5,1066.5 L547.5,1115" fill="none" stroke="#7030a0" stroke-width="5" stroke-linejoin="round"/>
<path d="M600,1115 L600,1066.5 L652,1066.5 L652,1115" fill="none" stroke="#7030a0" stroke-width="5" stroke-linejoin="round"/>
<path d="M706,1115 L706,1068.5 L761,1068.5 L761,1115" fill="none" stroke="#7030a0" stroke-width="5" stroke-linejoin="round"/>
<path d="M492,1398 L492,1431 L551,1431 L551,1398" fill="none" stroke="#7030a0" stroke-width="5" stroke-linejoin="round"/>
<path d="M600,1398 L600,1432.5 L657.5,1432.5 L657.5,1398" fill="none" stroke="#7030a0" stroke-width="5" stroke-linejoin="round"/>
<path d="M706,1398 L706,1435 L763,1435 L763,1398" fill="none" stroke="#7030a0" stroke-width="5" stroke-linejoin="round"/>
<g transform="translate(0,0)"><path d="M741.3,1437 C741.6,1441.7 743.3,1455.8 743,1465 C742.7,1474.2 741.6,1482.7 739.5,1492 C737.4,1501.3 735.3,1513.8 730.5,1521 C725.7,1528.2 722.3,1532.3 710.6,1535.3 C698.9,1538.3 677.6,1538.5 660.2,1538.9 C642.8,1539.4 624,1537.7 606,1538 C588,1538.3 568.5,1539.4 552,1540.7 C535.5,1542 516.5,1543.6 507,1546 C497.6,1548.4 495.3,1552.3 495.3,1555 C495.3,1557.7 494.6,1561.7 507,1562.3 C519.5,1562.9 550.5,1559.6 570,1558.7 C589.5,1557.8 601.5,1558 624,1557 C646.5,1556 688,1552.1 705,1552.4 C722,1552.7 726,1556.3 726,1558.7 C726,1561.1 719,1565.5 705,1566.8 C691,1568.1 664.5,1566.3 642,1566.8 C619.5,1567.2 589.5,1568.3 570,1569.5 C550.5,1570.7 535.7,1571 525,1574 C514.3,1577 508.7,1582.6 506,1587.6 C503.3,1592.6 504.1,1599.4 508.8,1603.8 C513.5,1608.2 520.8,1612.8 534,1613.7 C547.2,1614.6 564,1611.5 588,1609.2 C612,1607 660.6,1600.7 678.2,1600.2 C695.8,1599.8 691,1605.5 693.5,1606.5" fill="none" stroke="#7030a0" stroke-width="4.5" stroke-linejoin="round" stroke-linecap="round"/></g>
<path d="M306.4,1749.7 C307.8,1737.3 313.5,1714.5 321.3,1700.7 C329.1,1686.9 341.5,1675.9 353.2,1666.7 C364.9,1657.5 375.6,1650.4 391.6,1645.4 C407.6,1640.4 428.8,1637.2 449,1636.8 C469.2,1636.4 493.5,1639.7 513,1643.2 C532.5,1646.8 552.4,1652.1 566.2,1658.1 C580,1664.1 589.5,1667.4 596,1679.4 C602.5,1691.4 604.8,1713 605,1730 C605.2,1747 603.5,1768.5 597,1781.7 C590.5,1794.9 583.8,1802.8 566.2,1809.3 C548.7,1815.8 518.3,1820.3 491.7,1821 C465.1,1821.7 431.4,1818 406.5,1813.6 C381.6,1809.2 358.2,1800.8 342.6,1794.4 C327,1788 318.8,1782.8 312.8,1775.3 C306.8,1767.8 305,1762.1 306.4,1749.7Z" fill="#05fb0b"/>
<path d="M596,1679.4 C596.9,1667.1 599.9,1660.6 602.4,1656 C604.9,1651.4 608.2,1651.5 611,1651.8 C613.8,1652.1 616.2,1658.1 619.4,1658.1 C622.6,1658.1 628.4,1655 630,1651.8 C631.6,1648.6 629.3,1643.6 629,1639 C628.7,1634.4 626,1628.6 628,1624 C630,1619.4 633.2,1614.3 640.7,1611.3 C648.2,1608.3 662.1,1603.9 672.7,1606 C683.4,1608.1 694,1616 704.6,1624 C715.2,1632 729.4,1643.6 736.5,1653.9 C743.6,1664.2 745.1,1674.5 747.2,1685.8 C749.3,1697.1 748.6,1709.9 749.3,1722 C750,1734.1 754,1752.2 751.5,1758.2 C749,1764.2 739.2,1756.4 734.4,1758.2 C729.6,1760 724.1,1764.6 722.7,1768.9 C721.3,1773.2 723.2,1779.9 726,1783.8 C728.8,1787.7 739.7,1787.3 739.7,1792.3 C739.7,1797.3 733.5,1806.1 725.9,1813.6 C718.3,1821 702.9,1832.2 694,1837 C685.1,1841.8 681.6,1843.4 672.7,1842.3 C663.8,1841.2 651.4,1836.8 640.7,1830.6 C630.1,1824.4 615.5,1813.2 608.8,1805.1 C602,1796.9 602.2,1794.2 600.2,1781.7 C598.2,1769.2 597.7,1747 597,1730 C596.3,1713 595.1,1691.7 596,1679.4Z" fill="#05fb0b"/>
<path d="M467,1648 C477.9,1651.6 475.6,1661.7 480,1671 C484.4,1680.3 489.9,1691.4 493.2,1703.7 C496.5,1716 500.6,1733.7 499.8,1744.6 C499,1755.5 495.7,1763.2 488.3,1769.2 C480.9,1775.2 464.6,1777.9 455.6,1780.6 C446.6,1783.3 439.5,1781.2 434.3,1785.6 C429.1,1790 435.9,1804.6 424.4,1806.8 C412.9,1809 380.8,1802.2 365.5,1798.7 C350.2,1795.2 340.1,1791.9 332.7,1785.6 C325.3,1779.3 322.9,1771.9 321.3,1761 C319.7,1750.1 319.6,1731.5 322.9,1720 C326.2,1708.5 332.5,1701.2 341,1692.2 C349.5,1683.2 361.4,1673.1 373.7,1666 C386,1658.9 399.1,1652.6 414.6,1649.6 C430.2,1646.6 456.1,1644.4 467,1648Z" fill="#3efc3a"/>
<path d="M1051,740.6 C1048,741.6 1046.1,743.5 1045.1,752.4 C1044.1,761.2 1045.1,779.2 1045.1,793.7 C1045.1,808.2 1045.1,839.4 1045.1,839.4 C1045.1,839.4 1025.5,837.7 1012.7,835 C999.9,832.3 983.2,826.6 968.5,823.2 C953.8,819.8 933.6,814.6 924.2,814.4 C914.9,814.1 912.4,816.8 912.4,821.7 C912.4,826.6 917.3,835.3 924.2,843.9 C931.1,852.5 943.9,864 953.7,873.3 C963.5,882.6 969,892.5 983.2,899.9 C997.5,907.3 1023,916.6 1039.2,917.6 C1055.4,918.6 1069.7,913.2 1080.5,905.8 C1091.3,898.4 1099.7,884.6 1104.1,873.3 C1108.5,862 1107.6,851.3 1107.1,838 C1106.6,824.7 1104.7,806 1101.2,793.7 C1097.8,781.4 1092.8,772.1 1086.4,764.2 C1080,756.3 1068.7,750.4 1062.8,746.5 C1056.9,742.6 1054,739.6 1051,740.6Z" fill="#25d3ca"/>
<path d="M1092.3,897 C1101.2,897.6 1126.7,900.1 1145.4,900.5 C1164.1,900.9 1185.7,898.4 1204.4,899.3 C1223.1,900.2 1246.7,903 1257.5,905.8 C1268.3,908.6 1269.3,912.6 1269.3,916 C1269.3,919.4 1268.3,924.7 1257.5,926.4 C1246.7,928.1 1228,925.6 1204.4,926.4 C1180.8,927.1 1140.3,929.3 1115.9,930.9 C1091.5,932.5 1070,933.8 1058,935.8 C1046,937.8 1044,940.6 1044,943 C1044,945.4 1041.1,948.8 1058,950.2 C1074.9,951.6 1118.6,951 1145.4,951.5 C1172.2,952 1199.9,952.5 1219.1,953 C1238.3,953.5 1252.3,953.2 1260.4,954.4 C1268.5,955.6 1268.3,958.1 1267.8,960.3 C1267.3,962.5 1273,966.5 1257.5,967.7 C1242,968.9 1203.4,968.7 1174.9,967.7 C1146.4,966.7 1108,961.3 1086.4,961.8 C1064.8,962.3 1055.9,965.3 1045.1,970.7 C1034.3,976.1 1026.4,985.5 1021.5,994.3 C1016.6,1003.1 1016.6,1012.2 1015.6,1023.7 C1014.6,1035.2 1015.6,1056.9 1015.6,1063.5" fill="none" stroke="#25d3ca" stroke-width="4.2" stroke-linejoin="round" stroke-linecap="round"/>
<path d="M1092.3,897 C1101.2,897.6 1126.7,900.1 1145.4,900.5 C1164.1,900.9 1185.7,898.4 1204.4,899.3 C1223.1,900.2 1246.7,903 1257.5,905.8 C1268.3,908.6 1269.3,912.6 1269.3,916 C1269.3,919.4 1268.3,924.7 1257.5,926.4 C1246.7,928.1 1228,925.6 1204.4,926.4 C1180.8,927.1 1140.3,929.3 1115.9,930.9 C1091.5,932.5 1070,933.8 1058,935.8 C1046,937.8 1044,940.6 1044,943 C1044,945.4 1041.1,948.8 1058,950.2 C1074.9,951.6 1118.6,951 1145.4,951.5 C1172.2,952 1199.9,952.5 1219.1,953 C1238.3,953.5 1252.3,953.2 1260.4,954.4 C1268.5,955.6 1268.3,958.1 1267.8,960.3 C1267.3,962.5 1273,966.5 1257.5,967.7 C1242,968.9 1203.4,968.7 1174.9,967.7 C1146.4,966.7 1108,961.3 1086.4,961.8 C1064.8,962.3 1055.9,965.3 1045.1,970.7 C1034.3,976.1 1026.4,985.5 1021.5,994.3 C1016.6,1003.1 1016.6,1012.2 1015.6,1023.7 C1014.6,1035.2 1015.6,1056.9 1015.6,1063.5" pathLength="1000" stroke-dasharray="893.6 2000" fill="none" stroke="#25d3ca" stroke-width="6.5" stroke-linejoin="round" stroke-linecap="round"/>
<rect x="968.5" y="1107" width="44.5" height="285.6" rx="3" fill="#25d3ca"/>
<rect x="1027" y="1107" width="46.6" height="285.6" rx="3" fill="#25d3ca"/>
<rect x="1081" y="1107" width="48.6" height="285.6" rx="3" fill="#25d3ca"/>
<rect x="1134.7" y="1107" width="47" height="285.6" rx="3" fill="#25d3ca"/>
<rect x="1185" y="1107" width="48.7" height="285.6" rx="3" fill="#25d3ca"/>
<rect x="1243.8" y="1107" width="47" height="285.6" rx="3" fill="#25d3ca"/>
<path d="M989.5,1109 L989.5,1063.5 L1048,1063.5 L1048,1109" fill="none" stroke="#25d3ca" stroke-width="5" stroke-linejoin="round"/>
<path d="M1100,1109 L1100,1063.5 L1157.5,1063.5 L1157.5,1109" fill="none" stroke="#25d3ca" stroke-width="5" stroke-linejoin="round"/>
<path d="M1206,1109 L1206,1065 L1264.5,1065 L1264.5,1109" fill="none" stroke="#25d3ca" stroke-width="5" stroke-linejoin="round"/>
<path d="M994.5,1390.6 L994.5,1427 L1054.3,1427 L1054.3,1390.6" fill="none" stroke="#25d3ca" stroke-width="5" stroke-linejoin="round"/>
<path d="M1100,1390.6 L1100,1427 L1155,1427 L1155,1390.6" fill="none" stroke="#25d3ca" stroke-width="5" stroke-linejoin="round"/>
<path d="M1205,1390.6 L1205,1429 L1263,1429 L1263,1390.6" fill="none" stroke="#25d3ca" stroke-width="5" stroke-linejoin="round"/>
<g transform="translate(500,-8)"><path d="M741.3,1437 C741.6,1441.7 743.3,1455.8 743,1465 C742.7,1474.2 741.6,1482.7 739.5,1492 C737.4,1501.3 735.3,1513.8 730.5,1521 C725.7,1528.2 722.3,1532.3 710.6,1535.3 C698.9,1538.3 677.6,1538.5 660.2,1538.9 C642.8,1539.4 624,1537.7 606,1538 C588,1538.3 568.5,1539.4 552,1540.7 C535.5,1542 516.5,1543.6 507,1546 C497.6,1548.4 495.3,1552.3 495.3,1555 C495.3,1557.7 494.6,1561.7 507,1562.3 C519.5,1562.9 550.5,1559.6 570,1558.7 C589.5,1557.8 601.5,1558 624,1557 C646.5,1556 688,1552.1 705,1552.4 C722,1552.7 726,1556.3 726,1558.7 C726,1561.1 719,1565.5 705,1566.8 C691,1568.1 664.5,1566.3 642,1566.8 C619.5,1567.2 589.5,1568.3 570,1569.5 C550.5,1570.7 535.7,1571 525,1574 C514.3,1577 508.7,1582.6 506,1587.6 C503.3,1592.6 504.1,1599.4 508.8,1603.8 C513.5,1608.2 520.8,1612.8 534,1613.7 C547.2,1614.6 564,1611.5 588,1609.2 C612,1607 660.6,1600.7 678.2,1600.2 C695.8,1599.8 691,1605.5 693.5,1606.5" fill="none" stroke="#25d3ca" stroke-width="6" stroke-linejoin="round" stroke-linecap="round"/></g>
<path d="M812.6,1727.8 C813.9,1715.2 818.9,1697.1 827.7,1686.4 C836.5,1675.7 851.6,1669.8 865.4,1663.8 C879.2,1657.8 895.5,1653.9 910.6,1650.6 C925.7,1647.3 938.2,1644.5 955.8,1644.2 C973.4,1643.9 998.4,1645.4 1016,1648.7 C1033.6,1652 1049.3,1657.5 1061.3,1663.8 C1073.2,1670.1 1082.1,1673.9 1087.7,1686.4 C1093.3,1698.9 1095,1723.9 1095,1739 C1095,1754.1 1094.6,1766.1 1087.7,1776.8 C1080.8,1787.5 1068.2,1796.3 1053.8,1803.2 C1039.3,1810.1 1017.3,1813.8 1001,1818.2 C984.7,1822.6 972.1,1829.5 955.8,1829.5 C939.5,1829.5 921.2,1825.1 903,1818.2 C884.8,1811.3 860.3,1797.5 846.5,1788.1 C832.7,1778.7 825.8,1771.8 820.1,1761.7 C814.5,1751.7 811.3,1740.3 812.6,1727.8Z" fill="#0a3957"/>
<path d="M1091.4,1686.4 C1090.8,1673.2 1088.2,1663.8 1091.4,1660 C1094.6,1656.2 1104.7,1661.9 1110.3,1663.8 C1115.9,1665.7 1122.2,1672.6 1125.3,1671.3 C1128.4,1670 1128.5,1662.5 1129.1,1656.2 C1129.7,1649.9 1130.3,1639.2 1129.1,1633.6 C1127.8,1627.9 1123.5,1625.8 1121.6,1622.3 C1119.7,1618.8 1113.4,1616.4 1117.8,1612.9 C1122.2,1609.5 1136.7,1603.8 1148,1601.6 C1159.3,1599.4 1173,1596.2 1185.6,1599.7 C1198.1,1603.2 1212.6,1612.9 1223.3,1622.3 C1234,1631.7 1244,1644.3 1249.7,1656.2 C1255.4,1668.1 1255.6,1681.3 1257.2,1693.9 C1258.8,1706.5 1259.1,1723.8 1259.1,1731.6 C1259.1,1739.4 1261.3,1739.4 1257.2,1741 C1253.1,1742.6 1240.2,1738.2 1234.6,1741 C1228.9,1743.8 1224.2,1751.4 1223.3,1758 C1222.4,1764.6 1225.5,1775.6 1229,1780.6 C1232.5,1785.6 1243.1,1783.7 1244,1788.1 C1244.9,1792.5 1240.6,1800 1234.6,1806.9 C1228.6,1813.8 1217.6,1823.5 1208.2,1829.5 C1198.8,1835.5 1188,1842.1 1178,1842.7 C1168,1843.3 1158,1839.3 1148,1833.3 C1138,1827.3 1126,1817 1117.8,1806.9 C1109.6,1796.9 1102.8,1784.3 1099,1773 C1095.2,1761.7 1096.5,1753.4 1095.2,1739 C1093.9,1724.6 1092,1699.6 1091.4,1686.4Z" fill="#0a3957"/>
<path d="M1540.4,740.6 C1536.7,741.6 1534.5,743.5 1533,752.4 C1531.5,761.2 1531.8,778.5 1531.5,793.7 C1531.2,809 1531,843.9 1531,843.9 C1531,843.9 1506.9,844.3 1493.2,845.3 C1479.5,846.3 1460.8,850.3 1449,849.8 C1437.2,849.3 1427.6,842.4 1422.4,842.4 C1417.2,842.4 1413.6,842.7 1418,849.8 C1422.4,856.9 1438.9,874.8 1449,885.1 C1459.1,895.4 1468.7,905.8 1478.5,911.7 C1488.3,917.6 1493.2,921.5 1508,920.5 C1522.8,919.5 1553.2,912.7 1567,905.8 C1580.8,898.9 1585.3,890.5 1590.5,879.2 C1595.7,867.9 1597.4,850.8 1597.9,838 C1598.4,825.2 1596.7,814.4 1593.5,802.6 C1590.3,790.8 1585.1,776.6 1578.7,767.2 C1572.3,757.9 1561.5,750.9 1555.1,746.5 C1548.7,742.1 1544.1,739.6 1540.4,740.6Z" fill="#ffc20b"/>
<path d="M1587.6,889.6 C1598.9,890.3 1634.3,893 1655.4,894 C1676.5,895 1697.7,894.3 1714.4,895.5 C1731.1,896.7 1747.4,898.7 1755.7,901.4 C1764,904.1 1765,909 1764.5,911.7 C1764,914.4 1766,915.6 1752.7,917.6 C1739.4,919.6 1711,922 1684.9,923.5 C1658.9,925 1620.5,925.4 1596.4,926.4 C1572.3,927.4 1551.2,928.2 1540.4,929.4 C1529.6,930.6 1531,931.8 1531.5,933.8 C1532,935.8 1527.6,940 1543.3,941.2 C1559,942.4 1597.4,940.7 1625.9,941.2 C1654.4,941.7 1691.3,943.1 1714.4,944.1 C1737.5,945.1 1754.2,945.4 1764.5,947.1 C1774.8,948.8 1776.8,952 1776.3,954.4 C1775.8,956.8 1776.8,960.8 1761.6,961.8 C1746.4,962.8 1712.4,961.3 1684.9,960.3 C1657.4,959.3 1620,955.1 1596.4,955.9 C1572.8,956.6 1555.6,959.9 1543.3,964.8 C1531,969.7 1527.1,977 1522.7,985.4 C1518.3,993.8 1518,1002.9 1516.8,1014.9 C1515.6,1026.9 1515.5,1050.4 1515.3,1057.5" fill="none" stroke="#ffc20b" stroke-width="4.2" stroke-linejoin="round" stroke-linecap="round"/>
<path d="M1587.6,889.6 C1598.9,890.3 1634.3,893 1655.4,894 C1676.5,895 1697.7,894.3 1714.4,895.5 C1731.1,896.7 1747.4,898.7 1755.7,901.4 C1764,904.1 1765,909 1764.5,911.7 C1764,914.4 1766,915.6 1752.7,917.6 C1739.4,919.6 1711,922 1684.9,923.5 C1658.9,925 1620.5,925.4 1596.4,926.4 C1572.3,927.4 1551.2,928.2 1540.4,929.4 C1529.6,930.6 1531,931.8 1531.5,933.8 C1532,935.8 1527.6,940 1543.3,941.2 C1559,942.4 1597.4,940.7 1625.9,941.2 C1654.4,941.7 1691.3,943.1 1714.4,944.1 C1737.5,945.1 1754.2,945.4 1764.5,947.1 C1774.8,948.8 1776.8,952 1776.3,954.4 C1775.8,956.8 1776.8,960.8 1761.6,961.8 C1746.4,962.8 1712.4,961.3 1684.9,960.3 C1657.4,959.3 1620,955.1 1596.4,955.9 C1572.8,956.6 1555.6,959.9 1543.3,964.8 C1531,969.7 1527.1,977 1522.7,985.4 C1518.3,993.8 1518,1002.9 1516.8,1014.9 C1515.6,1026.9 1515.5,1050.4 1515.3,1057.5" pathLength="1000" stroke-dasharray="898.6 2000" fill="none" stroke="#ffc20b" stroke-width="6.5" stroke-linejoin="round" stroke-linecap="round"/>
<rect x="1468.5" y="1102" width="45.3" height="287" rx="3" fill="#ffc20b"/>
<rect x="1530.6" y="1102" width="43.4" height="287" rx="3" fill="#ffc20b"/>
<rect x="1582.6" y="1102" width="45.4" height="287" rx="3" fill="#ffc20b"/>
<rect x="1634.7" y="1102" width="47" height="287" rx="3" fill="#ffc20b"/>
<rect x="1688.4" y="1102" width="50.4" height="287" rx="3" fill="#ffc20b"/>
<rect x="1745.5" y="1102" width="50.4" height="287" rx="3" fill="#ffc20b"/>
<path d="M1496,1104 L1496,1057.5 L1553,1057.5 L1553,1104" fill="none" stroke="#ffc20b" stroke-width="5" stroke-linejoin="round"/>
<path d="M1600,1104 L1600,1057.5 L1658,1057.5 L1658,1104" fill="none" stroke="#ffc20b" stroke-width="5" stroke-linejoin="round"/>
<path d="M1711,1104 L1711,1058.5 L1761,1058.5 L1761,1104" fill="none" stroke="#ffc20b" stroke-width="5" stroke-linejoin="round"/>
<path d="M1496,1387 L1496,1420.5 L1551.5,1420.5 L1551.5,1387" fill="none" stroke="#ffc20b" stroke-width="5" stroke-linejoin="round"/>
<path d="M1600,1387 L1600,1421 L1654,1421 L1654,1387" fill="none" stroke="#ffc20b" stroke-width="5" stroke-linejoin="round"/>
<path d="M1707.5,1387 L1707.5,1427 L1764.5,1427 L1764.5,1387" fill="none" stroke="#ffc20b" stroke-width="5" stroke-linejoin="round"/>
<g transform="translate(1000,-10)"><path d="M741.3,1437 C741.6,1441.7 743.3,1455.8 743,1465 C742.7,1474.2 741.6,1482.7 739.5,1492 C737.4,1501.3 735.3,1513.8 730.5,1521 C725.7,1528.2 722.3,1532.3 710.6,1535.3 C698.9,1538.3 677.6,1538.5 660.2,1538.9 C642.8,1539.4 624,1537.7 606,1538 C588,1538.3 568.5,1539.4 552,1540.7 C535.5,1542 516.5,1543.6 507,1546 C497.6,1548.4 495.3,1552.3 495.3,1555 C495.3,1557.7 494.6,1561.7 507,1562.3 C519.5,1562.9 550.5,1559.6 570,1558.7 C589.5,1557.8 601.5,1558 624,1557 C646.5,1556 688,1552.1 705,1552.4 C722,1552.7 726,1556.3 726,1558.7 C726,1561.1 719,1565.5 705,1566.8 C691,1568.1 664.5,1566.3 642,1566.8 C619.5,1567.2 589.5,1568.3 570,1569.5 C550.5,1570.7 535.7,1571 525,1574 C514.3,1577 508.7,1582.6 506,1587.6 C503.3,1592.6 504.1,1599.4 508.8,1603.8 C513.5,1608.2 520.8,1612.8 534,1613.7 C547.2,1614.6 564,1611.5 588,1609.2 C612,1607 660.6,1600.7 678.2,1600.2 C695.8,1599.8 691,1605.5 693.5,1606.5" fill="none" stroke="#ffc20b" stroke-width="6.5" stroke-linejoin="round" stroke-linecap="round"/></g>
<path d="M1312.6,1721.6 C1314.5,1710.3 1318.9,1691.4 1327.7,1680.1 C1336.5,1668.8 1351.6,1660.4 1365.4,1653.8 C1379.2,1647.2 1394.9,1643.8 1410.6,1640.6 C1426.3,1637.4 1442,1635.2 1459.6,1634.9 C1477.2,1634.6 1497.8,1634.9 1516,1638.7 C1534.2,1642.5 1555.3,1650.6 1568.8,1657.5 C1582.3,1664.4 1591.5,1670.5 1597,1680.1 C1602.5,1689.7 1602,1703.1 1602,1715 C1602,1726.9 1601.3,1741.2 1597,1751.7 C1592.7,1762.2 1589.9,1769.3 1576.4,1778.1 C1562.9,1786.9 1536.1,1798.5 1516,1804.5 C1495.9,1810.5 1477.8,1813.9 1455.8,1813.9 C1433.8,1813.9 1404.3,1811.1 1384.2,1804.5 C1364.1,1797.9 1346.5,1783.7 1335.2,1774.3 C1323.9,1764.9 1320.2,1756.8 1316.4,1748 C1312.6,1739.2 1310.7,1732.9 1312.6,1721.6Z" fill="#b014a0"/>
<path d="M1599,1680.1 C1599.1,1669.7 1597.7,1661.3 1600.8,1657.5 C1603.9,1653.7 1613.1,1658.8 1617.8,1657.5 C1622.5,1656.2 1626.9,1654.4 1629.1,1650 C1631.3,1645.6 1631.6,1636.8 1631,1631.1 C1630.4,1625.4 1625.6,1620.2 1625.3,1616.1 C1625,1612 1622.2,1609.5 1629.1,1606.7 C1636,1603.9 1654.9,1598.8 1666.8,1599.1 C1678.7,1599.4 1690,1601.9 1700.7,1608.5 C1711.4,1615.1 1723,1626.1 1730.8,1638.7 C1738.6,1651.3 1744,1670.1 1747.8,1683.9 C1751.6,1697.7 1752.2,1711.5 1753.4,1721.6 C1754.7,1731.6 1758.8,1739.8 1755.3,1744.2 C1751.8,1748.6 1738.7,1744.9 1732.7,1748 C1726.7,1751.1 1720.8,1757.3 1719.5,1763 C1718.2,1768.7 1721.4,1777.8 1725.2,1781.9 C1729,1786 1741.3,1783.7 1742.2,1787.5 C1743.1,1791.3 1737.1,1798.5 1730.8,1804.5 C1724.5,1810.5 1713.9,1818.6 1704.5,1823.3 C1695.1,1828 1684.3,1832.7 1674.3,1832.7 C1664.2,1832.7 1654.2,1829.3 1644.2,1823.3 C1634.2,1817.3 1621.5,1807 1614,1796.9 C1606.5,1786.9 1601.3,1775.8 1599,1763 C1596.7,1750.2 1600,1733.8 1600,1720 C1600,1706.2 1598.9,1690.5 1599,1680.1Z" fill="#b014a0"/>
<path d="M2473.7,960.2 C2494.7,960.6 2520.2,970.7 2537.8,980.4 C2555.4,990.1 2575.4,1005.8 2579.4,1018.4 C2583.4,1031 2567.2,1043.4 2562,1056 C2556.8,1068.6 2552.5,1077.8 2548,1094 C2543.5,1110.2 2538.3,1131.2 2535,1153 C2531.7,1174.8 2529.5,1199.3 2528,1225 C2526.5,1250.7 2524.3,1285.5 2526,1307 C2527.7,1328.5 2533.2,1338.5 2538,1354 C2542.8,1369.5 2550.8,1386.8 2555,1400 C2559.2,1413.2 2564.3,1423.3 2563,1433 C2561.7,1442.7 2557.3,1450.3 2547,1458 C2536.7,1465.7 2516.3,1475.7 2501,1479 C2485.7,1482.3 2468,1480.7 2455,1478 C2442,1475.3 2432.2,1469.3 2423,1463 C2413.8,1456.7 2402.5,1450.5 2400,1440 C2397.5,1429.5 2406,1409.9 2408,1400 C2410,1390.1 2409.2,1398 2412,1380.5 C2414.8,1363 2422,1320.9 2425,1295 C2428,1269.1 2430,1248.7 2430,1225 C2430,1201.3 2428.3,1176.8 2425,1153 C2421.7,1129.2 2417.8,1104 2410,1082 C2402.2,1060 2377.7,1038 2378,1020.7 C2378.3,1003.4 2396.1,988.1 2412,978 C2427.9,967.9 2452.7,959.8 2473.7,960.2Z" fill="#0a3a57"/>
<path d="M2338.4,1027.9 C2343.3,1021 2353.4,1019.4 2359.7,1018.4 C2366,1017.4 2370.8,1018.3 2376.4,1021.9 C2382,1025.5 2386.7,1031.6 2393,1039.7 C2399.3,1047.8 2408.1,1058.7 2414.4,1070.6 C2420.7,1082.5 2426.7,1095.2 2431,1111 C2435.3,1126.8 2438.7,1145.8 2440.5,1165.6 C2442.3,1185.4 2442.8,1208.4 2442,1230 C2441.2,1251.6 2437.9,1278.2 2435.7,1295 C2433.5,1311.8 2430.6,1316.3 2428.6,1330.6 C2426.6,1344.8 2428.2,1363.5 2423.9,1380.5 C2419.6,1397.5 2409.2,1421.2 2402.5,1432.7 C2395.8,1444.2 2391.4,1445.3 2383.5,1449.3 C2375.6,1453.3 2365.3,1460 2355,1456.5 C2344.7,1453 2330.4,1441.1 2321.7,1428 C2313,1414.9 2307.4,1400.2 2302.7,1378 C2297.9,1355.8 2295,1328.4 2293.2,1295 C2291.4,1261.6 2292,1205.4 2292,1177.5 C2292,1149.6 2288.5,1140.5 2293.2,1127.6 C2297.9,1114.7 2313.9,1111.3 2320,1100 C2326.1,1088.7 2326.9,1072 2330,1060 C2333.1,1048 2333.5,1034.8 2338.4,1027.9Z" fill="#bdd9a1"/>
<path d="M2579.4,1023 C2586.9,1016.3 2590.3,1016.8 2597.2,1016 C2604.1,1015.2 2615.3,1016 2621,1018.4 C2626.7,1020.8 2630.4,1026.3 2631.6,1030.2 C2632.8,1034.1 2631.3,1039.6 2628,1042 C2624.7,1044.4 2616.2,1039.8 2611.5,1044.5 C2606.8,1049.2 2598.6,1058.2 2600,1070 C2601.4,1081.8 2609.8,1106.6 2620,1115 C2630.2,1123.4 2653.2,1110.1 2661.3,1120.5 C2669.4,1130.9 2667.2,1152.4 2668.5,1177.5 C2669.8,1202.6 2669.8,1241.5 2669,1271 C2668.2,1300.5 2666.9,1330.6 2663.7,1354.4 C2660.4,1378.2 2655.8,1397.5 2649.5,1413.7 C2643.2,1429.9 2635.2,1443.8 2625.7,1451.7 C2616.2,1459.6 2602,1462.8 2592.5,1461.2 C2583,1459.6 2574.3,1447.7 2568.7,1442.2 C2563.1,1436.7 2565.7,1442.6 2559,1428 C2552.3,1413.4 2535,1374.6 2528.3,1354.4 C2521.6,1334.2 2520.8,1324.7 2518.8,1306.9 C2516.8,1289.1 2516.3,1267 2516.5,1247.5 C2516.7,1228 2518.8,1205.6 2520,1190 C2521.2,1174.4 2521,1169.6 2523.6,1153.7 C2526.2,1137.8 2530.8,1110.6 2535.5,1094.4 C2540.2,1078.2 2544.7,1068.3 2552,1056.4 C2559.3,1044.5 2571.9,1029.7 2579.4,1023Z" fill="#bdd9a1"/>
<circle cx="2300.4" cy="1077.7" r="38.5" fill="#b014a0" stroke="#fff" stroke-width="6"/>
<circle cx="2634" cy="1084.9" r="38" fill="#13b072" stroke="#fff" stroke-width="6"/>
<ellipse cx="2471.3" cy="1274.8" rx="47.5" ry="46" fill="#b39c17"/>
<path d="M2925.5,972.6 C2926.3,965.1 2927.4,968 2930.2,973.7 C2932.9,979.4 2938,999.1 2942,1007 C2946,1014.9 2943.3,1016.1 2954,1021.2 C2964.7,1026.4 2991.5,1034.5 3006.2,1037.9 C3020.8,1041.3 3030,1041 3041.9,1041.4 C3053.8,1041.8 3065.6,1042.4 3077.5,1040.2 C3089.4,1038 3102,1035.1 3113.1,1028.4 C3124.2,1021.7 3135.7,1010.2 3144,999.9 C3152.3,989.6 3158.2,972.5 3163,966.6 C3167.8,960.7 3170.3,963 3172.5,964.2 C3174.7,965.4 3175.4,965.4 3176,973.7 C3176.6,982 3178.7,993 3176,1014 C3173.3,1035 3164.3,1060.7 3160,1100 C3155.7,1139.3 3152.5,1200 3150,1250 C3147.5,1300 3146.4,1365 3145,1400 C3143.6,1435 3143.8,1447.5 3141.6,1459.8 C3139.4,1472.1 3138.7,1468 3132,1474 C3125.3,1480 3114.2,1490.3 3101.2,1495.5 C3088.1,1500.7 3069.5,1504.6 3053.7,1505 C3037.9,1505.4 3019.6,1501.4 3006.2,1497.8 C2992.8,1494.2 2981.7,1489.1 2973,1483.6 C2964.3,1478.1 2957.8,1478.5 2954,1464.6 C2950.2,1450.7 2951.5,1435.8 2950,1400 C2948.5,1364.2 2947.5,1300 2945,1250 C2942.5,1200 2938.2,1138.5 2935,1100 C2931.8,1061.5 2927.1,1040.1 2925.5,1018.9 C2923.9,997.7 2924.7,980.1 2925.5,972.6Z" fill="#bdd9a1"/>
<path d="M2918.4,1018.9 C2925.9,1015.5 2932.9,1017.2 2942,1020 C2951.1,1022.8 2963.9,1029.3 2973,1035.5 C2982.1,1041.7 2990.8,1049 2996.7,1056.9 C3002.6,1064.8 3005.4,1071.2 3008.6,1083 C3011.8,1094.8 3014.3,1110.6 3015.7,1128 C3017.1,1145.4 3016.9,1168.8 3017,1187.5 C3017.1,1206.2 3017.2,1221.2 3016,1240 C3014.8,1258.8 3012.7,1280 3010,1300 C3007.3,1320 3003.8,1343 3000,1360 C2996.2,1377 2992.3,1388.3 2987,1402 C2981.7,1415.7 2974.7,1431.6 2968,1442 C2961.3,1452.4 2954.4,1460.4 2946.9,1464.6 C2939.4,1468.8 2931.4,1471 2923.1,1467 C2914.8,1463 2903.7,1450.4 2897,1440.9 C2890.3,1431.4 2888.2,1423.9 2882.7,1410 C2877.1,1396.1 2868.4,1377.5 2863.7,1357.7 C2858.9,1337.9 2856.2,1314.2 2854.2,1291.2 C2852.2,1268.2 2852.1,1237.3 2851.9,1220 C2851.7,1202.7 2852.2,1200.8 2853,1187.5 C2853.8,1174.2 2853.2,1157.4 2856.6,1140 C2860,1122.6 2866.5,1099.6 2873.2,1083 C2879.9,1066.4 2889.5,1050.9 2897,1040.2 C2904.5,1029.5 2910.9,1022.3 2918.4,1018.9Z" fill="#c55a11"/>
<path d="M3120.2,1045 C3126.9,1034.7 3136.5,1026.5 3144,1021.2 C3151.5,1015.9 3159,1013.4 3165.3,1013 C3171.6,1012.6 3175.3,1015.5 3182,1019 C3188.7,1022.5 3202.1,1031 3205.7,1034.3 C3209.2,1037.6 3206.5,1038 3203.3,1039 C3200.1,1040 3193.1,1034.2 3186.7,1040.2 C3180.3,1046.2 3165.3,1062 3165,1075 C3164.7,1088 3175.1,1111.9 3185,1118 C3194.9,1124.1 3216.5,1113.2 3224.7,1111.5 C3232.9,1109.8 3231.4,1107.2 3234.2,1108 C3237,1108.8 3239.7,1106.9 3241.3,1116.2 C3242.9,1125.5 3243.1,1146.4 3243.7,1163.7 C3244.3,1181 3244.9,1204.7 3244.9,1220 C3244.9,1235.3 3244.3,1239.8 3243.7,1255.6 C3243.1,1271.4 3243.3,1295.2 3241.3,1315 C3239.3,1334.8 3236.9,1354.6 3231.8,1374.4 C3226.7,1394.2 3218,1419.5 3210.5,1433.7 C3203,1447.9 3195.4,1453.9 3186.7,1459.8 C3178,1465.7 3166.5,1472.1 3158.2,1469.3 C3149.9,1466.5 3143.2,1453.1 3136.9,1443.2 C3130.6,1433.3 3126.1,1425 3120.2,1410 C3114.2,1395 3105.6,1372.8 3101.2,1353 C3096.8,1333.2 3095.2,1310 3094,1291.2 C3092.8,1272.4 3093.7,1265.2 3094.1,1240 C3094.5,1214.8 3094.9,1166.2 3096.5,1140 C3098.1,1113.8 3099.7,1098.8 3103.6,1083 C3107.5,1067.2 3113.5,1055.3 3120.2,1045Z" fill="#c55a11"/>
<circle cx="3196.2" cy="1083" r="36" fill="#13b072" stroke="#fff" stroke-width="6"/>
<path d="M3505,967.8 C3507.4,968.2 3509.7,971.1 3512.1,976.1 C3514.5,981.1 3514,990 3519.2,997.5 C3524.3,1005 3533.5,1014.9 3543,1021.2 C3552.5,1027.5 3564.7,1031.9 3576.2,1035.5 C3587.7,1039.1 3600,1043 3611.9,1042.6 C3623.8,1042.2 3633.7,1038.2 3647.5,1033.1 C3661.3,1027.9 3681.9,1020.8 3695,1011.7 C3708.1,1002.6 3718.7,986.8 3725.8,978.5 C3732.9,970.2 3734.3,963.7 3737.7,961.9 C3741.1,960.1 3744.6,959.5 3746,967.8 C3747.4,976.1 3747.8,989.7 3746,1011.7 C3744.2,1033.7 3738.5,1060.3 3735,1100 C3731.5,1139.7 3727.2,1200 3725,1250 C3722.8,1300 3722.7,1363.8 3722,1400 C3721.3,1436.2 3725.5,1451.5 3721,1467 C3716.5,1482.5 3707.2,1486.7 3695,1493 C3682.8,1499.3 3663.3,1502.4 3647.5,1505 C3631.7,1507.6 3615.8,1511.3 3600,1508.5 C3584.2,1505.7 3565.6,1496 3552.5,1488.3 C3539.4,1480.6 3527.3,1476.9 3521.6,1462.2 C3515.8,1447.5 3519.6,1435.4 3518,1400 C3516.4,1364.6 3514.2,1300 3512,1250 C3509.8,1200 3507.8,1138.9 3505,1100 C3502.2,1061.1 3496.7,1037.5 3495.5,1016.5 C3494.3,995.5 3496.3,981.8 3497.9,973.7 C3499.5,965.6 3502.6,967.4 3505,967.8Z" fill="#b0c5e6"/>
<path d="M3497.9,1017.7 C3507,1016.1 3514.5,1019.7 3524,1028.4 C3533.5,1037.1 3547.5,1056.7 3555,1070 C3562.5,1083.3 3564.8,1091.3 3569,1108 C3573.2,1124.7 3577.5,1150.7 3580,1170 C3582.5,1189.3 3584.3,1204 3584,1224 C3583.7,1244 3580.5,1271.5 3578,1290 C3575.5,1308.5 3572.8,1315.5 3569,1335 C3565.2,1354.5 3561.3,1387.7 3555,1407 C3548.7,1426.3 3539.8,1440.5 3531,1451 C3522.2,1461.5 3511.9,1469.7 3502,1470 C3492.1,1470.3 3480.7,1460.7 3471.7,1452.7 C3462.7,1444.7 3453.9,1436.9 3448,1421.9 C3442.1,1406.9 3439.7,1384.3 3436.1,1362.5 C3432.5,1340.7 3428.6,1315 3426.6,1291.2 C3424.6,1267.5 3424.2,1243.2 3424.2,1220 C3424.2,1196.8 3423.8,1173.2 3426.6,1151.9 C3429.4,1130.7 3433.8,1111.5 3440.9,1092.5 C3448,1073.5 3459.9,1050.4 3469.4,1037.9 C3478.9,1025.4 3488.8,1019.3 3497.9,1017.7Z" fill="#b014a0"/>
<path d="M3680.7,1052.1 C3687.8,1039.4 3700.1,1032.5 3709.2,1026 C3718.3,1019.5 3727.8,1013.7 3735.3,1012.9 C3742.8,1012.1 3748.2,1016.9 3754.3,1021.2 C3760.4,1025.5 3770.1,1035.4 3772.1,1039 C3774.1,1042.6 3769.9,1042.4 3766.2,1042.6 C3762.4,1042.8 3755.6,1034 3749.6,1040.2 C3743.6,1046.4 3728.3,1066.7 3730,1080 C3731.7,1093.3 3747.6,1115.5 3760,1120 C3772.4,1124.5 3796,1107.7 3804.2,1106.7 C3812.4,1105.7 3807.8,1108.4 3809,1113.9 C3810.2,1119.5 3809.7,1127.7 3811.3,1140 C3812.9,1152.3 3816.7,1174.2 3818.5,1187.5 C3820.3,1200.8 3822,1200.7 3822,1220 C3822,1239.3 3820.7,1279.3 3818.5,1303.1 C3816.3,1326.8 3813.8,1342.7 3809,1362.5 C3804.2,1382.3 3797.1,1406.5 3790,1421.9 C3782.9,1437.3 3775.7,1447.2 3766.2,1455.1 C3756.7,1463 3744.1,1472.1 3733,1469.3 C3721.9,1466.5 3707.6,1449.2 3699.7,1438.5 C3691.8,1427.8 3691,1417.9 3685.5,1405.2 C3680,1392.5 3671.2,1383.5 3666.5,1362.5 C3661.8,1341.5 3659,1303.2 3657,1279.4 C3655,1255.7 3654.2,1239.3 3654.6,1220 C3655,1200.7 3657.4,1183.4 3659.4,1163.7 C3661.4,1144 3662.9,1120.6 3666.5,1102 C3670.1,1083.4 3673.6,1064.8 3680.7,1052.1Z" fill="#b014a0"/>
<circle cx="3766.2" cy="1080.6" r="37" fill="#13b072" stroke="#fff" stroke-width="6"/>
<path d="M2321.5,811 L2367.4,914.9" stroke="#1c6287" stroke-width="6.5" fill="none"/><path d="M2377.5,937.8 L2354.2,918.6 L2378.9,907.6Z" fill="#1c6287"/>
<path d="M2460,931.9 L2460,755" stroke="#1c6287" stroke-width="6.5" fill="none"/><path d="M2460,730 L2473.5,757 L2446.5,757Z" fill="#1c6287"/>
<path d="M2604.5,793.3 L2568.9,913.8" stroke="#1c6287" stroke-width="6.5" fill="none"/><path d="M2561.8,937.8 L2556.5,908.1 L2582.4,915.7Z" fill="#1c6287"/>
<path d="M2419.5,1521 L2387.7,1685.8" stroke="#1c6287" stroke-width="6.5" fill="none"/><path d="M2383,1710.3 L2374.9,1681.2 L2401.4,1686.3Z" fill="#1c6287"/>
<path d="M2489.2,1533 L2490.8,1696" stroke="#1c6287" stroke-width="6.5" fill="none"/><path d="M2491,1721 L2477.2,1694.1 L2504.2,1693.9Z" fill="#1c6287"/>
<path d="M2608.6,1698 L2565.4,1545.1" stroke="#1c6287" stroke-width="6.5" fill="none"/><path d="M2558.6,1521 L2578.9,1543.3 L2552.9,1550.7Z" fill="#1c6287"/>
<path d="M2903.5,811.2 L2949.1,915" stroke="#1c6287" stroke-width="6.5" fill="none"/><path d="M2959.2,937.9 L2936,918.6 L2960.7,907.7Z" fill="#1c6287"/>
<path d="M3049.7,926.8 L3049.7,752.7" stroke="#1c6287" stroke-width="6.5" fill="none"/><path d="M3049.7,727.7 L3063.2,754.7 L3036.2,754.7Z" fill="#1c6287"/>
<path d="M3181.4,784.2 L3144.7,904.1" stroke="#1c6287" stroke-width="6.5" fill="none"/><path d="M3137.4,928 L3132.4,898.2 L3158.2,906.1Z" fill="#1c6287"/>
<path d="M3001.9,1532.7 L2971.3,1697.8" stroke="#1c6287" stroke-width="6.5" fill="none"/><path d="M2966.8,1722.4 L2958.4,1693.4 L2985,1698.3Z" fill="#1c6287"/>
<path d="M3072.7,1538.6 L3073.8,1702.8" stroke="#1c6287" stroke-width="6.5" fill="none"/><path d="M3074,1727.8 L3060.3,1700.9 L3087.3,1700.7Z" fill="#1c6287"/>
<path d="M3181.6,1711.6 L3137.2,1557.2" stroke="#1c6287" stroke-width="6.5" fill="none"/><path d="M3130.3,1533.2 L3150.7,1555.4 L3124.8,1562.9Z" fill="#1c6287"/>
<path d="M3458.8,784 L3504.9,888.5" stroke="#1c6287" stroke-width="6.5" fill="none"/><path d="M3515,911.4 L3491.8,892.1 L3516.5,881.2Z" fill="#1c6287"/>
<path d="M3624.4,919.8 L3624.4,745.7" stroke="#1c6287" stroke-width="6.5" fill="none"/><path d="M3624.4,720.7 L3637.9,747.7 L3610.9,747.7Z" fill="#1c6287"/>
<path d="M3754.5,767.5 L3718.5,887.5" stroke="#1c6287" stroke-width="6.5" fill="none"/><path d="M3711.3,911.4 L3706.1,881.7 L3732,889.4Z" fill="#1c6287"/>
<path d="M3551,1541.9 L3519.8,1706.4" stroke="#1c6287" stroke-width="6.5" fill="none"/><path d="M3515.1,1731 L3506.9,1702 L3533.4,1707Z" fill="#1c6287"/>
<path d="M3639.5,1541.9 L3640.8,1705.5" stroke="#1c6287" stroke-width="6.5" fill="none"/><path d="M3641,1730.5 L3627.3,1703.6 L3654.3,1703.4Z" fill="#1c6287"/>
<path d="M3775.4,1697.6 L3730.9,1543.7" stroke="#1c6287" stroke-width="6.5" fill="none"/><path d="M3724,1519.7 L3744.5,1541.9 L3718.5,1549.4Z" fill="#1c6287"/>
<text x="702" y="252" font-size="152.2" font-weight="400" fill="#000" textLength="99" lengthAdjust="spacingAndGlyphs">A</text>
<text x="923.3" y="220" font-size="114.5" font-weight="700" fill="#000" textLength="690.8" lengthAdjust="spacingAndGlyphs">Metabotropic</text>
<text x="2724.1" y="233" font-size="152.2" font-weight="400" fill="#000" textLength="99.4" lengthAdjust="spacingAndGlyphs">B</text>
<text x="2918.3" y="219.6" font-size="114.5" font-weight="700" fill="#000" textLength="470.7" lengthAdjust="spacingAndGlyphs">Inotropic</text>
<text x="483.2" y="433.7" font-size="81.9" font-weight="400" fill="#000" textLength="273" lengthAdjust="spacingAndGlyphs">Group 1</text>
<text x="997.8" y="433.8" font-size="81.2" font-weight="400" fill="#000" textLength="284.4" lengthAdjust="spacingAndGlyphs">Group 2</text>
<text x="1479.1" y="438" font-size="82.6" font-weight="400" fill="#000" textLength="283.3" lengthAdjust="spacingAndGlyphs">Group 3</text>
<text x="446.3" y="572" font-size="81.9" font-weight="400" fill="#000" textLength="390.3" lengthAdjust="spacingAndGlyphs">mGluR 1, 5</text>
<text x="955.6" y="571" font-size="81.2" font-weight="400" fill="#000" textLength="390.6" lengthAdjust="spacingAndGlyphs">mGluR 2, 3</text>
<text x="1453.5" y="564" font-size="82.6" font-weight="400" fill="#000" textLength="525" lengthAdjust="spacingAndGlyphs">mGluR 4, 6,7,8</text>
<text x="2353.9" y="440.5" font-size="81.2" font-weight="400" fill="#000" textLength="279.4" lengthAdjust="spacingAndGlyphs">NMDAR</text>
<text x="2986" y="433.5" font-size="80.4" font-weight="400" fill="#000" textLength="256.8" lengthAdjust="spacingAndGlyphs">AMPAR</text>
<text x="3519.7" y="433.5" font-size="80.4" font-weight="400" fill="#000" textLength="148.3" lengthAdjust="spacingAndGlyphs">KAR</text>
<text x="397" y="1763.5" font-size="68.1" font-weight="400" fill="#000" textLength="126.3" lengthAdjust="spacingAndGlyphs">PLC</text>
<text x="600" y="1763.5" font-size="68.8" font-weight="400" fill="#000" textLength="90.9" lengthAdjust="spacingAndGlyphs">Gq</text>
<text x="903" y="1763.6" font-size="68.1" font-weight="400" fill="#bfbfbf" textLength="89.2" lengthAdjust="spacingAndGlyphs">AC</text>
<text x="1113.5" y="1763.6" font-size="68.1" font-weight="400" fill="#bfbfbf" textLength="69.3" lengthAdjust="spacingAndGlyphs">Gi</text>
<text x="1408.7" y="1749.8" font-size="68.1" font-weight="400" fill="#000" textLength="90.4" lengthAdjust="spacingAndGlyphs">AC</text>
<text x="1618.1" y="1749.8" font-size="68.1" font-weight="400" fill="#000" textLength="70.6" lengthAdjust="spacingAndGlyphs">Gi</text>
<text x="2428.3" y="1285.5" font-size="32.6" font-weight="400" fill="#000" textLength="93.2" lengthAdjust="spacingAndGlyphs">Mg 2+</text>
<text x="2221" y="1031" font-size="49.3" font-weight="400" fill="#000" textLength="79" lengthAdjust="spacingAndGlyphs">Gly</text>
<text x="2661.3" y="1031" font-size="49.3" font-weight="400" fill="#000" textLength="84.3" lengthAdjust="spacingAndGlyphs">Glu</text>
<text x="3214.3" y="1030" font-size="49.3" font-weight="400" fill="#000" textLength="85.1" lengthAdjust="spacingAndGlyphs">Glu</text>
<text x="3787.3" y="1030" font-size="49.3" font-weight="400" fill="#000" textLength="84.9" lengthAdjust="spacingAndGlyphs">Glu</text>
<text x="2238.5" y="784.5" font-size="51.4" font-weight="400" fill="#000" textLength="62.6" lengthAdjust="spacingAndGlyphs">Ca</text>
<text x="2305.1" y="767.5" font-size="34.5" font-weight="400" fill="#000" textLength="38.7" lengthAdjust="spacingAndGlyphs">2+</text>
<text x="2441.3" y="714.9" font-size="52" font-weight="400" fill="#000" textLength="30.9" lengthAdjust="spacingAndGlyphs">K</text>
<text x="2472.4" y="696.6" font-size="34.1" font-weight="400" fill="#000" textLength="18.8" lengthAdjust="spacingAndGlyphs">+</text>
<text x="2585.7" y="774" font-size="51" font-weight="400" fill="#000" textLength="65.9" lengthAdjust="spacingAndGlyphs">Na</text>
<text x="2652.6" y="755.7" font-size="34.1" font-weight="400" fill="#000" textLength="19.8" lengthAdjust="spacingAndGlyphs">+</text>
<text x="2307.5" y="1768.4" font-size="49" font-weight="400" fill="#000" textLength="63.2" lengthAdjust="spacingAndGlyphs">Ca</text>
<text x="2374.9" y="1751.4" font-size="34.5" font-weight="400" fill="#000" textLength="36.7" lengthAdjust="spacingAndGlyphs">2+</text>
<text x="2465.5" y="1780.5" font-size="50.9" font-weight="400" fill="#000" textLength="63.4" lengthAdjust="spacingAndGlyphs">Na</text>
<text x="2529.7" y="1762.2" font-size="34.1" font-weight="400" fill="#000" textLength="22.5" lengthAdjust="spacingAndGlyphs">+</text>
<text x="2600.9" y="1759" font-size="49.3" font-weight="400" fill="#000" textLength="31" lengthAdjust="spacingAndGlyphs">K</text>
<text x="2632.3" y="1740.7" font-size="34.1" font-weight="400" fill="#000" textLength="16.8" lengthAdjust="spacingAndGlyphs">+</text>
<text x="2828.6" y="786" font-size="50.1" font-weight="400" fill="#000" textLength="62.4" lengthAdjust="spacingAndGlyphs">Ca</text>
<text x="2895" y="769" font-size="34.5" font-weight="400" fill="#000" textLength="38.7" lengthAdjust="spacingAndGlyphs">2+</text>
<text x="3031.3" y="706" font-size="51.3" font-weight="400" fill="#000" textLength="31" lengthAdjust="spacingAndGlyphs">K</text>
<text x="3062.4" y="687.7" font-size="34.1" font-weight="400" fill="#000" textLength="19.3" lengthAdjust="spacingAndGlyphs">+</text>
<text x="3155" y="762.5" font-size="50.4" font-weight="400" fill="#000" textLength="64.5" lengthAdjust="spacingAndGlyphs">Na</text>
<text x="3220.2" y="744.2" font-size="34.1" font-weight="400" fill="#000" textLength="21.8" lengthAdjust="spacingAndGlyphs">+</text>
<text x="2892.5" y="1776.5" font-size="50.9" font-weight="400" fill="#000" textLength="63.4" lengthAdjust="spacingAndGlyphs">Ca</text>
<text x="2960" y="1759.5" font-size="34.5" font-weight="400" fill="#000" textLength="38.2" lengthAdjust="spacingAndGlyphs">2+</text>
<text x="3045" y="1783" font-size="50.7" font-weight="400" fill="#000" textLength="63.5" lengthAdjust="spacingAndGlyphs">Na</text>
<text x="3109.3" y="1764.7" font-size="34.1" font-weight="400" fill="#000" textLength="22.4" lengthAdjust="spacingAndGlyphs">+</text>
<text x="3174.7" y="1769.7" font-size="50.9" font-weight="400" fill="#000" textLength="31" lengthAdjust="spacingAndGlyphs">K</text>
<text x="3206" y="1751.4" font-size="34.1" font-weight="400" fill="#000" textLength="17.3" lengthAdjust="spacingAndGlyphs">+</text>
<text x="3396.5" y="755.5" font-size="50.4" font-weight="400" fill="#000" textLength="62.7" lengthAdjust="spacingAndGlyphs">Ca</text>
<text x="3463.3" y="738.5" font-size="34.5" font-weight="400" fill="#000" textLength="38" lengthAdjust="spacingAndGlyphs">2+</text>
<text x="3606.8" y="697" font-size="50.3" font-weight="400" fill="#000" textLength="31" lengthAdjust="spacingAndGlyphs">K</text>
<text x="3638" y="678.7" font-size="34.1" font-weight="400" fill="#000" textLength="18.4" lengthAdjust="spacingAndGlyphs">+</text>
<text x="3732.4" y="749" font-size="51" font-weight="400" fill="#000" textLength="64.6" lengthAdjust="spacingAndGlyphs">Na</text>
<text x="3797.8" y="730.7" font-size="34.1" font-weight="400" fill="#000" textLength="21.5" lengthAdjust="spacingAndGlyphs">+</text>
<text x="3444.6" y="1782" font-size="49.3" font-weight="400" fill="#000" textLength="62.4" lengthAdjust="spacingAndGlyphs">Ca</text>
<text x="3511.1" y="1765" font-size="34.5" font-weight="400" fill="#000" textLength="37.6" lengthAdjust="spacingAndGlyphs">2+</text>
<text x="3614.7" y="1786" font-size="49.3" font-weight="400" fill="#000" textLength="62" lengthAdjust="spacingAndGlyphs">Na</text>
<text x="3677.5" y="1767.7" font-size="34.1" font-weight="400" fill="#000" textLength="22.6" lengthAdjust="spacingAndGlyphs">+</text>
<text x="3766.3" y="1757.6" font-size="51" font-weight="400" fill="#000" textLength="31" lengthAdjust="spacingAndGlyphs">K</text>
<text x="3797.5" y="1739.3" font-size="34.1" font-weight="400" fill="#000" textLength="18.5" lengthAdjust="spacingAndGlyphs">+</text>
</svg>
</body></html>
